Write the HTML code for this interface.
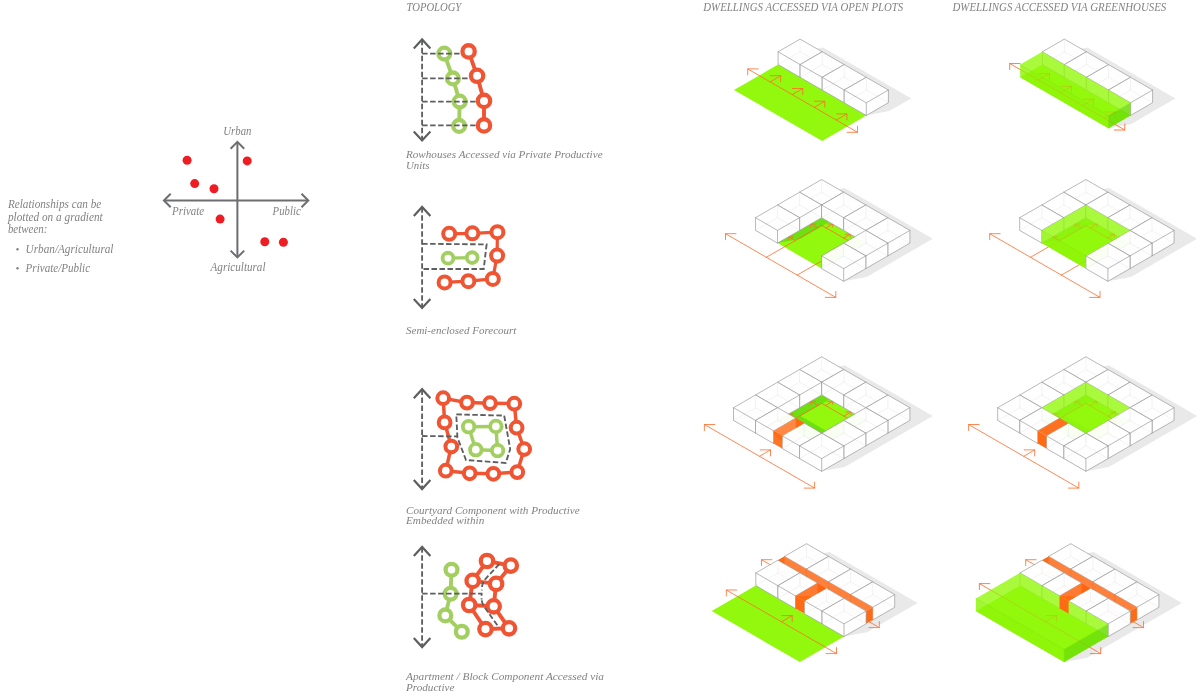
<!DOCTYPE html>
<html lang="en"><head><meta charset="utf-8"><title>Topology</title>
<style>
html,body{margin:0;padding:0;background:#fff}
body{width:1200px;height:696px;overflow:hidden}
svg{display:block;will-change:transform}
svg text{font-family:"Liberation Serif",serif;font-style:italic;fill:#828282}
</style></head><body>
<svg width="1200" height="696" viewBox="0 0 1200 696">
<rect width="1200" height="696" fill="#fff"/>
<g id="iso" stroke-linecap="round">
<polygon points="778.1,64.5 800.1,77.3 823.1,72.9 845.1,60.2 823.1,47.5 800.1,51.8" fill="#e9e9e9"/>
<polygon points="800.1,77.3 822.2,90 845.1,85.7 867.2,72.9 845.1,60.2 822.2,64.5" fill="#e9e9e9"/>
<polygon points="822.2,90 844.2,102.7 867.2,98.4 889.2,85.7 867.2,72.9 844.2,77.3" fill="#e9e9e9"/>
<polygon points="844.2,102.7 866.3,115.5 889.2,111.1 911.3,98.4 889.2,85.7 866.3,90" fill="#e9e9e9"/>
<polygon points="734,90 822.2,140.9 866.3,115.5 778.1,64.5" fill="#92f90e"/>
<polyline points="747.7,68.9 857.5,132.3" fill="none" stroke="#ff6a2a" stroke-width="0.8"/>
<polyline points="758.1,68.9 747.7,68.9 747.7,74.9" fill="none" stroke="#ff6a2a" stroke-width="0.8"/>
<polyline points="857.5,126.3 857.5,132.3 847.1,132.3" fill="none" stroke="#ff6a2a" stroke-width="0.8"/>
<polyline points="770.2,81.9 780.7,75.7" fill="none" stroke="#ff6a2a" stroke-width="0.8"/>
<polyline points="780.7,81.8 780.7,75.7 770.3,75.7" fill="none" stroke="#ff6a2a" stroke-width="0.8"/>
<polyline points="792.2,94.6 802.8,88.5" fill="none" stroke="#ff6a2a" stroke-width="0.8"/>
<polyline points="802.8,94.5 802.8,88.5 792.4,88.5" fill="none" stroke="#ff6a2a" stroke-width="0.8"/>
<polyline points="814.3,107.3 824.8,101.2" fill="none" stroke="#ff6a2a" stroke-width="0.8"/>
<polyline points="824.8,107.2 824.8,101.2 814.4,101.2" fill="none" stroke="#ff6a2a" stroke-width="0.8"/>
<polyline points="836.3,120 846.9,113.9" fill="none" stroke="#ff6a2a" stroke-width="0.8"/>
<polyline points="846.9,119.9 846.9,113.9 836.5,113.9" fill="none" stroke="#ff6a2a" stroke-width="0.8"/>
<polygon points="778.1,64.5 800.1,77.3 822.2,64.5 822.2,51.8 800.1,39.1 778.1,51.8" fill="#fff" fill-opacity="0.95"/>
<polyline points="800.1,51.8 822.2,64.5" fill="none" stroke="#e9e9e9" stroke-width="0.5"/>
<polyline points="800.1,51.8 778.1,64.5" fill="none" stroke="#e9e9e9" stroke-width="0.5"/>
<polyline points="800.1,51.8 800.1,39.1" fill="none" stroke="#e9e9e9" stroke-width="0.5"/>
<polyline points="778.1,51.8 800.1,64.6 822.2,51.8 800.1,39.1 778.1,51.8 778.1,64.5 800.1,77.3 822.2,64.5 822.2,51.8" fill="none" stroke="#939393" stroke-width="0.65" stroke-linejoin="round"/>
<polyline points="800.1,77.3 800.1,64.6" fill="none" stroke="#939393" stroke-width="0.65"/>
<polygon points="800.1,77.3 822.2,90 844.2,77.3 844.2,64.6 822.2,51.8 800.1,64.6" fill="#fff" fill-opacity="0.95"/>
<polyline points="822.2,64.5 844.2,77.3" fill="none" stroke="#e9e9e9" stroke-width="0.5"/>
<polyline points="822.2,64.5 800.1,77.3" fill="none" stroke="#e9e9e9" stroke-width="0.5"/>
<polyline points="822.2,64.5 822.2,51.8" fill="none" stroke="#e9e9e9" stroke-width="0.5"/>
<polyline points="800.1,64.6 822.2,77.3 844.2,64.6 822.2,51.8 800.1,64.6 800.1,77.3 822.2,90 844.2,77.3 844.2,64.6" fill="none" stroke="#939393" stroke-width="0.65" stroke-linejoin="round"/>
<polyline points="822.2,90 822.2,77.3" fill="none" stroke="#939393" stroke-width="0.65"/>
<polygon points="822.2,90 844.2,102.7 866.3,90 866.3,77.3 844.2,64.6 822.2,77.3" fill="#fff" fill-opacity="0.95"/>
<polyline points="844.2,77.3 866.3,90" fill="none" stroke="#e9e9e9" stroke-width="0.5"/>
<polyline points="844.2,77.3 822.2,90" fill="none" stroke="#e9e9e9" stroke-width="0.5"/>
<polyline points="844.2,77.3 844.2,64.6" fill="none" stroke="#e9e9e9" stroke-width="0.5"/>
<polyline points="822.2,77.3 844.2,90 866.3,77.3 844.2,64.6 822.2,77.3 822.2,90 844.2,102.7 866.3,90 866.3,77.3" fill="none" stroke="#939393" stroke-width="0.65" stroke-linejoin="round"/>
<polyline points="844.2,102.7 844.2,90" fill="none" stroke="#939393" stroke-width="0.65"/>
<polygon points="844.2,102.7 866.3,115.5 888.4,102.7 888.4,90 866.3,77.3 844.2,90" fill="#fff" fill-opacity="0.95"/>
<polyline points="866.3,90 888.4,102.7" fill="none" stroke="#e9e9e9" stroke-width="0.5"/>
<polyline points="866.3,90 844.2,102.7" fill="none" stroke="#e9e9e9" stroke-width="0.5"/>
<polyline points="866.3,90 866.3,77.3" fill="none" stroke="#e9e9e9" stroke-width="0.5"/>
<polyline points="844.2,90 866.3,102.8 888.4,90 866.3,77.3 844.2,90 844.2,102.7 866.3,115.5 888.4,102.7 888.4,90" fill="none" stroke="#939393" stroke-width="0.65" stroke-linejoin="round"/>
<polyline points="866.3,115.5 866.3,102.8" fill="none" stroke="#939393" stroke-width="0.65"/>
<polygon points="1042.3,64.5 1064.3,77.3 1087.3,72.9 1109.3,60.2 1087.3,47.5 1064.4,51.8" fill="#e9e9e9"/>
<polygon points="1064.3,77.3 1086.4,90 1109.3,85.7 1131.4,72.9 1109.3,60.2 1086.4,64.5" fill="#e9e9e9"/>
<polygon points="1086.4,90 1108.5,102.7 1131.4,98.4 1153.4,85.7 1131.4,72.9 1108.5,77.3" fill="#e9e9e9"/>
<polygon points="1108.5,102.7 1130.5,115.5 1153.4,111.1 1175.5,98.4 1153.4,85.7 1130.5,90" fill="#e9e9e9"/>
<polygon points="1020.2,77.3 1108.5,128.2 1131.4,123.9 1153.4,111.1 1065.2,60.2 1042.3,64.5" fill="#e9e9e9"/>
<polygon points="1020.2,77.3 1108.5,128.2 1130.5,115.5 1042.3,64.5" fill="#92f90e"/>
<polyline points="1009.7,63.5 1124.8,130" fill="none" stroke="#ff6a2a" stroke-width="0.8"/>
<polyline points="1020.1,63.5 1009.7,63.5 1009.7,69.5" fill="none" stroke="#ff6a2a" stroke-width="0.8"/>
<polyline points="1124.8,124 1124.8,130 1114.4,130" fill="none" stroke="#ff6a2a" stroke-width="0.8"/>
<polyline points="1038.3,80.1 1049.4,73.7" fill="none" stroke="#ff6a2a" stroke-width="0.8"/>
<polyline points="1049.4,79.7 1049.4,73.7 1038.9,73.7" fill="none" stroke="#ff6a2a" stroke-width="0.8"/>
<polyline points="1060.4,92.8 1071.4,86.4" fill="none" stroke="#ff6a2a" stroke-width="0.8"/>
<polyline points="1071.4,92.4 1071.4,86.4 1061,86.4" fill="none" stroke="#ff6a2a" stroke-width="0.8"/>
<polyline points="1082.4,105.5 1093.5,99.2" fill="none" stroke="#ff6a2a" stroke-width="0.8"/>
<polyline points="1093.5,105.2 1093.5,99.2 1083,99.2" fill="none" stroke="#ff6a2a" stroke-width="0.8"/>
<polyline points="1104.5,118.3 1115.5,111.9" fill="none" stroke="#ff6a2a" stroke-width="0.8"/>
<polyline points="1115.5,117.9 1115.5,111.9 1105.1,111.9" fill="none" stroke="#ff6a2a" stroke-width="0.8"/>
<polygon points="1042.3,64.5 1064.3,77.3 1086.4,64.5 1086.4,51.8 1064.4,39.1 1042.3,51.8" fill="#fff" fill-opacity="0.95"/>
<polyline points="1064.4,51.8 1086.4,64.5" fill="none" stroke="#e9e9e9" stroke-width="0.5"/>
<polyline points="1064.4,51.8 1042.3,64.5" fill="none" stroke="#e9e9e9" stroke-width="0.5"/>
<polyline points="1064.4,51.8 1064.4,39.1" fill="none" stroke="#e9e9e9" stroke-width="0.5"/>
<polyline points="1042.3,51.8 1064.3,64.6 1086.4,51.8 1064.4,39.1 1042.3,51.8 1042.3,64.5 1064.3,77.3 1086.4,64.5 1086.4,51.8" fill="none" stroke="#939393" stroke-width="0.65" stroke-linejoin="round"/>
<polyline points="1064.3,77.3 1064.3,64.6" fill="none" stroke="#939393" stroke-width="0.65"/>
<polygon points="1064.3,77.3 1086.4,90 1108.5,77.3 1108.5,64.6 1086.4,51.8 1064.3,64.6" fill="#fff" fill-opacity="0.95"/>
<polyline points="1086.4,64.5 1108.5,77.3" fill="none" stroke="#e9e9e9" stroke-width="0.5"/>
<polyline points="1086.4,64.5 1064.3,77.3" fill="none" stroke="#e9e9e9" stroke-width="0.5"/>
<polyline points="1086.4,64.5 1086.4,51.8" fill="none" stroke="#e9e9e9" stroke-width="0.5"/>
<polyline points="1064.3,64.6 1086.4,77.3 1108.5,64.6 1086.4,51.8 1064.3,64.6 1064.3,77.3 1086.4,90 1108.5,77.3 1108.5,64.6" fill="none" stroke="#939393" stroke-width="0.65" stroke-linejoin="round"/>
<polyline points="1086.4,90 1086.4,77.3" fill="none" stroke="#939393" stroke-width="0.65"/>
<polygon points="1086.4,90 1108.5,102.7 1130.5,90 1130.5,77.3 1108.5,64.6 1086.4,77.3" fill="#fff" fill-opacity="0.95"/>
<polyline points="1108.5,77.3 1130.5,90" fill="none" stroke="#e9e9e9" stroke-width="0.5"/>
<polyline points="1108.5,77.3 1086.4,90" fill="none" stroke="#e9e9e9" stroke-width="0.5"/>
<polyline points="1108.5,77.3 1108.5,64.6" fill="none" stroke="#e9e9e9" stroke-width="0.5"/>
<polyline points="1086.4,77.3 1108.5,90 1130.5,77.3 1108.5,64.6 1086.4,77.3 1086.4,90 1108.5,102.7 1130.5,90 1130.5,77.3" fill="none" stroke="#939393" stroke-width="0.65" stroke-linejoin="round"/>
<polyline points="1108.5,102.7 1108.5,90" fill="none" stroke="#939393" stroke-width="0.65"/>
<polygon points="1108.5,102.7 1130.5,115.5 1152.6,102.7 1152.6,90 1130.5,77.3 1108.5,90" fill="#fff" fill-opacity="0.95"/>
<polyline points="1130.5,90 1152.6,102.7" fill="none" stroke="#e9e9e9" stroke-width="0.5"/>
<polyline points="1130.5,90 1108.5,102.7" fill="none" stroke="#e9e9e9" stroke-width="0.5"/>
<polyline points="1130.5,90 1130.5,77.3" fill="none" stroke="#e9e9e9" stroke-width="0.5"/>
<polyline points="1108.5,90 1130.5,102.8 1152.6,90 1130.5,77.3 1108.5,90 1108.5,102.7 1130.5,115.5 1152.6,102.7 1152.6,90" fill="none" stroke="#939393" stroke-width="0.65" stroke-linejoin="round"/>
<polyline points="1130.5,115.5 1130.5,102.8" fill="none" stroke="#939393" stroke-width="0.65"/>
<polygon points="1020.2,77.3 1108.5,128.2 1108.5,115.5 1020.2,64.6" fill="#8ff50a" fill-opacity="0.84"/>
<polygon points="1108.5,128.2 1130.5,115.5 1130.5,102.8 1108.5,115.5" fill="#6fdf0a" fill-opacity="0.88"/>
<polygon points="1020.2,64.6 1108.5,115.5 1130.5,102.8 1042.3,51.8" fill="#93f90d" fill-opacity="0.8"/>
<polyline points="1020.2,64.6 1108.5,115.5" fill="none" stroke="#7fe60a" stroke-width="0.5"/>
<polyline points="1108.5,115.5 1130.5,102.8" fill="none" stroke="#7fe60a" stroke-width="0.5"/>
<polyline points="1108.5,128.2 1108.5,115.5" fill="none" stroke="#7fe60a" stroke-width="0.5"/>
<polyline points="1009.7,63.5 1124.8,130" fill="none" stroke="#ff6a2a" stroke-width="0.8" stroke-opacity="0.13"/>
<polyline points="1020.1,63.5 1009.7,63.5 1009.7,69.5" fill="none" stroke="#ff6a2a" stroke-width="0.8" stroke-opacity="0.13"/>
<polyline points="1124.8,124 1124.8,130 1114.4,130" fill="none" stroke="#ff6a2a" stroke-width="0.8" stroke-opacity="0.13"/>
<polyline points="1038.3,80.1 1049.4,73.7" fill="none" stroke="#ff6a2a" stroke-width="0.8" stroke-opacity="0.13"/>
<polyline points="1049.4,79.7 1049.4,73.7 1038.9,73.7" fill="none" stroke="#ff6a2a" stroke-width="0.8" stroke-opacity="0.13"/>
<polyline points="1060.4,92.8 1071.4,86.4" fill="none" stroke="#ff6a2a" stroke-width="0.8" stroke-opacity="0.13"/>
<polyline points="1071.4,92.4 1071.4,86.4 1061,86.4" fill="none" stroke="#ff6a2a" stroke-width="0.8" stroke-opacity="0.13"/>
<polyline points="1082.4,105.5 1093.5,99.2" fill="none" stroke="#ff6a2a" stroke-width="0.8" stroke-opacity="0.13"/>
<polyline points="1093.5,105.2 1093.5,99.2 1083,99.2" fill="none" stroke="#ff6a2a" stroke-width="0.8" stroke-opacity="0.13"/>
<polyline points="1104.5,118.3 1115.5,111.9" fill="none" stroke="#ff6a2a" stroke-width="0.8" stroke-opacity="0.13"/>
<polyline points="1115.5,117.9 1115.5,111.9 1105.1,111.9" fill="none" stroke="#ff6a2a" stroke-width="0.8" stroke-opacity="0.13"/>
<polygon points="799.6,204.9 821.6,217.7 844.6,213.3 866.6,200.6 844.6,187.9 821.6,192.2" fill="#e9e9e9"/>
<polygon points="821.6,217.7 843.7,230.4 866.6,226.1 888.7,213.3 866.6,200.6 843.7,204.9" fill="#e9e9e9"/>
<polygon points="843.7,230.4 865.8,243.1 888.7,238.8 910.7,226.1 888.7,213.3 865.8,217.7" fill="#e9e9e9"/>
<polygon points="865.8,243.1 887.8,255.9 910.7,251.5 932.8,238.8 910.7,226.1 887.8,230.4" fill="#e9e9e9"/>
<polygon points="755.5,230.4 777.5,243.1 800.5,238.8 822.5,226.1 800.5,213.3 777.5,217.7" fill="#e9e9e9"/>
<polygon points="777.5,217.7 799.6,230.4 822.5,226.1 844.6,213.3 822.5,200.6 799.6,204.9" fill="#e9e9e9"/>
<polygon points="821.6,268.6 843.7,281.3 866.6,277 888.7,264.3 866.6,251.5 843.7,255.9" fill="#e9e9e9"/>
<polygon points="843.7,255.9 865.8,268.6 888.7,264.3 910.7,251.5 888.7,238.8 865.8,243.1" fill="#e9e9e9"/>
<polygon points="777.5,243.1 821.6,268.6 865.8,243.1 821.6,217.7" fill="#92f90e"/>
<clipPath id="c1">
<polygon points="777.5,243.1 821.6,268.6 865.8,243.1 821.6,217.7"/>
</clipPath>
<polygon points="799.6,204.9 821.6,217.7 844.6,213.3 866.6,200.6 844.6,187.9 821.6,192.2" fill="#6fe00f" clip-path="url(#c1)"/>
<polygon points="821.6,217.7 843.7,230.4 866.6,226.1 888.7,213.3 866.6,200.6 843.7,204.9" fill="#6fe00f" clip-path="url(#c1)"/>
<polygon points="843.7,230.4 865.8,243.1 888.7,238.8 910.7,226.1 888.7,213.3 865.8,217.7" fill="#6fe00f" clip-path="url(#c1)"/>
<polygon points="865.8,243.1 887.8,255.9 910.7,251.5 932.8,238.8 910.7,226.1 887.8,230.4" fill="#6fe00f" clip-path="url(#c1)"/>
<polygon points="755.5,230.4 777.5,243.1 800.5,238.8 822.5,226.1 800.5,213.3 777.5,217.7" fill="#6fe00f" clip-path="url(#c1)"/>
<polygon points="777.5,217.7 799.6,230.4 822.5,226.1 844.6,213.3 822.5,200.6 799.6,204.9" fill="#6fe00f" clip-path="url(#c1)"/>
<polygon points="821.6,268.6 843.7,281.3 866.6,277 888.7,264.3 866.6,251.5 843.7,255.9" fill="#6fe00f" clip-path="url(#c1)"/>
<polygon points="843.7,255.9 865.8,268.6 888.7,264.3 910.7,251.5 888.7,238.8 865.8,243.1" fill="#6fe00f" clip-path="url(#c1)"/>
<polyline points="725.5,233.7 835.8,297.4" fill="none" stroke="#ff6a2a" stroke-width="0.8"/>
<polyline points="735.9,233.7 725.5,233.7 725.5,239.7" fill="none" stroke="#ff6a2a" stroke-width="0.8"/>
<polyline points="835.8,291.4 835.8,297.4 825.4,297.4" fill="none" stroke="#ff6a2a" stroke-width="0.8"/>
<polyline points="766.3,257.3 821.6,225.3 852.5,243.1 797.2,275.1" fill="none" stroke="#ff6a2a" stroke-width="0.8"/>
<polyline points="795.2,240.6 788.6,236.8" fill="none" stroke="#ff6a2a" stroke-width="0.8"/>
<polyline points="793.6,236.8 788.6,236.8 788.6,239.7" fill="none" stroke="#ff6a2a" stroke-width="0.8"/>
<polyline points="817.2,227.9 810.6,224" fill="none" stroke="#ff6a2a" stroke-width="0.8"/>
<polyline points="815.7,224 810.6,224 810.6,227" fill="none" stroke="#ff6a2a" stroke-width="0.8"/>
<polyline points="826.1,227.9 832.7,224" fill="none" stroke="#ff6a2a" stroke-width="0.8"/>
<polyline points="832.7,227 832.7,224 827.6,224" fill="none" stroke="#ff6a2a" stroke-width="0.8"/>
<polyline points="843.7,238 850.3,234.2" fill="none" stroke="#ff6a2a" stroke-width="0.8"/>
<polyline points="850.3,237.1 850.3,234.2 845.2,234.2" fill="none" stroke="#ff6a2a" stroke-width="0.8"/>
<polyline points="826.1,258.4 832.7,262.2" fill="none" stroke="#ff6a2a" stroke-width="0.8"/>
<polyline points="832.7,259.3 832.7,262.2 827.6,262.2" fill="none" stroke="#ff6a2a" stroke-width="0.8"/>
<polyline points="848.1,245.7 854.7,249.5" fill="none" stroke="#ff6a2a" stroke-width="0.8"/>
<polyline points="854.7,246.6 854.7,249.5 849.7,249.5" fill="none" stroke="#ff6a2a" stroke-width="0.8"/>
<polygon points="799.6,204.9 821.6,217.7 843.7,204.9 843.7,192.2 821.6,179.5 799.6,192.2" fill="#fff" fill-opacity="0.95"/>
<polyline points="821.6,192.2 843.7,204.9" fill="none" stroke="#e9e9e9" stroke-width="0.5"/>
<polyline points="821.6,192.2 799.6,204.9" fill="none" stroke="#e9e9e9" stroke-width="0.5"/>
<polyline points="821.6,192.2 821.6,179.5" fill="none" stroke="#e9e9e9" stroke-width="0.5"/>
<polyline points="799.6,192.2 821.6,205 843.7,192.2 821.6,179.5 799.6,192.2 799.6,204.9 821.6,217.7 843.7,204.9 843.7,192.2" fill="none" stroke="#939393" stroke-width="0.65" stroke-linejoin="round"/>
<polyline points="821.6,217.7 821.6,205" fill="none" stroke="#939393" stroke-width="0.65"/>
<polygon points="777.5,217.7 799.6,230.4 821.6,217.7 821.6,205 799.6,192.2 777.5,205" fill="#fff" fill-opacity="0.95"/>
<polyline points="799.6,204.9 821.6,217.7" fill="none" stroke="#e9e9e9" stroke-width="0.5"/>
<polyline points="799.6,204.9 777.5,217.7" fill="none" stroke="#e9e9e9" stroke-width="0.5"/>
<polyline points="799.6,204.9 799.6,192.2" fill="none" stroke="#e9e9e9" stroke-width="0.5"/>
<polyline points="777.5,205 799.6,217.7 821.6,205 799.6,192.2 777.5,205 777.5,217.7 799.6,230.4 821.6,217.7 821.6,205" fill="none" stroke="#939393" stroke-width="0.65" stroke-linejoin="round"/>
<polyline points="799.6,230.4 799.6,217.7" fill="none" stroke="#939393" stroke-width="0.65"/>
<polygon points="821.6,217.7 843.7,230.4 865.8,217.7 865.8,205 843.7,192.2 821.6,205" fill="#fff" fill-opacity="0.95"/>
<polyline points="843.7,204.9 865.8,217.7" fill="none" stroke="#e9e9e9" stroke-width="0.5"/>
<polyline points="843.7,204.9 821.6,217.7" fill="none" stroke="#e9e9e9" stroke-width="0.5"/>
<polyline points="843.7,204.9 843.7,192.2" fill="none" stroke="#e9e9e9" stroke-width="0.5"/>
<polyline points="821.6,205 843.7,217.7 865.8,205 843.7,192.2 821.6,205 821.6,217.7 843.7,230.4 865.8,217.7 865.8,205" fill="none" stroke="#939393" stroke-width="0.65" stroke-linejoin="round"/>
<polyline points="843.7,230.4 843.7,217.7" fill="none" stroke="#939393" stroke-width="0.65"/>
<polygon points="755.5,230.4 777.5,243.1 799.6,230.4 799.6,217.7 777.5,205 755.5,217.7" fill="#fff" fill-opacity="0.95"/>
<polyline points="777.5,217.7 799.6,230.4" fill="none" stroke="#e9e9e9" stroke-width="0.5"/>
<polyline points="777.5,217.7 755.5,230.4" fill="none" stroke="#e9e9e9" stroke-width="0.5"/>
<polyline points="777.5,217.7 777.5,205" fill="none" stroke="#e9e9e9" stroke-width="0.5"/>
<polyline points="755.5,217.7 777.5,230.4 799.6,217.7 777.5,205 755.5,217.7 755.5,230.4 777.5,243.1 799.6,230.4 799.6,217.7" fill="none" stroke="#939393" stroke-width="0.65" stroke-linejoin="round"/>
<polyline points="777.5,243.1 777.5,230.4" fill="none" stroke="#939393" stroke-width="0.65"/>
<polygon points="843.7,230.4 865.8,243.1 887.8,230.4 887.8,217.7 865.8,205 843.7,217.7" fill="#fff" fill-opacity="0.95"/>
<polyline points="865.8,217.7 887.8,230.4" fill="none" stroke="#e9e9e9" stroke-width="0.5"/>
<polyline points="865.8,217.7 843.7,230.4" fill="none" stroke="#e9e9e9" stroke-width="0.5"/>
<polyline points="865.8,217.7 865.8,205" fill="none" stroke="#e9e9e9" stroke-width="0.5"/>
<polyline points="843.7,217.7 865.8,230.4 887.8,217.7 865.8,205 843.7,217.7 843.7,230.4 865.8,243.1 887.8,230.4 887.8,217.7" fill="none" stroke="#939393" stroke-width="0.65" stroke-linejoin="round"/>
<polyline points="865.8,243.1 865.8,230.4" fill="none" stroke="#939393" stroke-width="0.65"/>
<polygon points="865.8,243.1 887.8,255.9 909.9,243.1 909.9,230.4 887.8,217.7 865.8,230.4" fill="#fff" fill-opacity="0.95"/>
<polyline points="887.8,230.4 909.9,243.1" fill="none" stroke="#e9e9e9" stroke-width="0.5"/>
<polyline points="887.8,230.4 865.8,243.1" fill="none" stroke="#e9e9e9" stroke-width="0.5"/>
<polyline points="887.8,230.4 887.8,217.7" fill="none" stroke="#e9e9e9" stroke-width="0.5"/>
<polyline points="865.8,230.4 887.8,243.2 909.9,230.4 887.8,217.7 865.8,230.4 865.8,243.1 887.8,255.9 909.9,243.1 909.9,230.4" fill="none" stroke="#939393" stroke-width="0.65" stroke-linejoin="round"/>
<polyline points="887.8,255.9 887.8,243.2" fill="none" stroke="#939393" stroke-width="0.65"/>
<polygon points="843.7,255.9 865.8,268.6 887.8,255.9 887.8,243.2 865.8,230.4 843.7,243.2" fill="#fff" fill-opacity="0.95"/>
<polyline points="865.8,243.1 887.8,255.9" fill="none" stroke="#e9e9e9" stroke-width="0.5"/>
<polyline points="865.8,243.1 843.7,255.9" fill="none" stroke="#e9e9e9" stroke-width="0.5"/>
<polyline points="865.8,243.1 865.8,230.4" fill="none" stroke="#e9e9e9" stroke-width="0.5"/>
<polyline points="843.7,243.2 865.8,255.9 887.8,243.2 865.8,230.4 843.7,243.2 843.7,255.9 865.8,268.6 887.8,255.9 887.8,243.2" fill="none" stroke="#939393" stroke-width="0.65" stroke-linejoin="round"/>
<polyline points="865.8,268.6 865.8,255.9" fill="none" stroke="#939393" stroke-width="0.65"/>
<polygon points="821.6,268.6 843.7,281.3 865.8,268.6 865.8,255.9 843.7,243.2 821.6,255.9" fill="#fff" fill-opacity="0.95"/>
<polyline points="843.7,255.9 865.8,268.6" fill="none" stroke="#e9e9e9" stroke-width="0.5"/>
<polyline points="843.7,255.9 821.6,268.6" fill="none" stroke="#e9e9e9" stroke-width="0.5"/>
<polyline points="843.7,255.9 843.7,243.2" fill="none" stroke="#e9e9e9" stroke-width="0.5"/>
<polyline points="821.6,255.9 843.7,268.6 865.8,255.9 843.7,243.2 821.6,255.9 821.6,268.6 843.7,281.3 865.8,268.6 865.8,255.9" fill="none" stroke="#939393" stroke-width="0.65" stroke-linejoin="round"/>
<polyline points="843.7,281.3 843.7,268.6" fill="none" stroke="#939393" stroke-width="0.65"/>
<polygon points="1063.8,204.9 1085.8,217.7 1108.8,213.3 1130.8,200.6 1108.8,187.9 1085.9,192.2" fill="#e9e9e9"/>
<polygon points="1085.8,217.7 1107.9,230.4 1130.8,226.1 1152.9,213.3 1130.8,200.6 1107.9,204.9" fill="#e9e9e9"/>
<polygon points="1107.9,230.4 1130,243.1 1152.9,238.8 1174.9,226.1 1152.9,213.3 1130,217.7" fill="#e9e9e9"/>
<polygon points="1130,243.1 1152,255.9 1174.9,251.5 1197,238.8 1174.9,226.1 1152,230.4" fill="#e9e9e9"/>
<polygon points="1019.7,230.4 1041.8,243.1 1064.7,238.8 1086.7,226.1 1064.7,213.3 1041.8,217.7" fill="#e9e9e9"/>
<polygon points="1041.8,217.7 1063.8,230.4 1086.7,226.1 1108.8,213.3 1086.7,200.6 1063.8,204.9" fill="#e9e9e9"/>
<polygon points="1085.9,268.6 1107.9,281.3 1130.8,277 1152.9,264.3 1130.8,251.5 1107.9,255.9" fill="#e9e9e9"/>
<polygon points="1107.9,255.9 1130,268.6 1152.9,264.3 1174.9,251.5 1152.9,238.8 1130,243.1" fill="#e9e9e9"/>
<polygon points="1041.8,243.1 1085.9,268.6 1130,243.1 1085.8,217.7" fill="#92f90e"/>
<clipPath id="c2">
<polygon points="1041.8,243.1 1085.9,268.6 1130,243.1 1085.8,217.7"/>
</clipPath>
<polygon points="1063.8,204.9 1085.8,217.7 1108.8,213.3 1130.8,200.6 1108.8,187.9 1085.9,192.2" fill="#6fe00f" clip-path="url(#c2)"/>
<polygon points="1085.8,217.7 1107.9,230.4 1130.8,226.1 1152.9,213.3 1130.8,200.6 1107.9,204.9" fill="#6fe00f" clip-path="url(#c2)"/>
<polygon points="1107.9,230.4 1130,243.1 1152.9,238.8 1174.9,226.1 1152.9,213.3 1130,217.7" fill="#6fe00f" clip-path="url(#c2)"/>
<polygon points="1130,243.1 1152,255.9 1174.9,251.5 1197,238.8 1174.9,226.1 1152,230.4" fill="#6fe00f" clip-path="url(#c2)"/>
<polygon points="1019.7,230.4 1041.8,243.1 1064.7,238.8 1086.7,226.1 1064.7,213.3 1041.8,217.7" fill="#6fe00f" clip-path="url(#c2)"/>
<polygon points="1041.8,217.7 1063.8,230.4 1086.7,226.1 1108.8,213.3 1086.7,200.6 1063.8,204.9" fill="#6fe00f" clip-path="url(#c2)"/>
<polygon points="1085.9,268.6 1107.9,281.3 1130.8,277 1152.9,264.3 1130.8,251.5 1107.9,255.9" fill="#6fe00f" clip-path="url(#c2)"/>
<polygon points="1107.9,255.9 1130,268.6 1152.9,264.3 1174.9,251.5 1152.9,238.8 1130,243.1" fill="#6fe00f" clip-path="url(#c2)"/>
<polyline points="989.7,233.7 1100,297.4" fill="none" stroke="#ff6a2a" stroke-width="0.8"/>
<polyline points="1000.1,233.7 989.7,233.7 989.7,239.7" fill="none" stroke="#ff6a2a" stroke-width="0.8"/>
<polyline points="1100,291.4 1100,297.4 1089.6,297.4" fill="none" stroke="#ff6a2a" stroke-width="0.8"/>
<polyline points="1030.5,257.3 1085.8,225.3 1116.7,243.1 1061.4,275.1" fill="none" stroke="#ff6a2a" stroke-width="0.8"/>
<polyline points="1059.4,240.6 1052.8,236.8" fill="none" stroke="#ff6a2a" stroke-width="0.8"/>
<polyline points="1057.8,236.8 1052.8,236.8 1052.8,239.7" fill="none" stroke="#ff6a2a" stroke-width="0.8"/>
<polyline points="1081.4,227.9 1074.8,224" fill="none" stroke="#ff6a2a" stroke-width="0.8"/>
<polyline points="1079.9,224 1074.8,224 1074.8,227" fill="none" stroke="#ff6a2a" stroke-width="0.8"/>
<polyline points="1090.3,227.9 1096.9,224" fill="none" stroke="#ff6a2a" stroke-width="0.8"/>
<polyline points="1096.9,227 1096.9,224 1091.8,224" fill="none" stroke="#ff6a2a" stroke-width="0.8"/>
<polyline points="1107.9,238 1114.5,234.2" fill="none" stroke="#ff6a2a" stroke-width="0.8"/>
<polyline points="1114.5,237.1 1114.5,234.2 1109.4,234.2" fill="none" stroke="#ff6a2a" stroke-width="0.8"/>
<polyline points="1090.3,258.4 1096.9,262.2" fill="none" stroke="#ff6a2a" stroke-width="0.8"/>
<polyline points="1096.9,259.3 1096.9,262.2 1091.8,262.2" fill="none" stroke="#ff6a2a" stroke-width="0.8"/>
<polyline points="1112.3,245.7 1118.9,249.5" fill="none" stroke="#ff6a2a" stroke-width="0.8"/>
<polyline points="1118.9,246.6 1118.9,249.5 1113.9,249.5" fill="none" stroke="#ff6a2a" stroke-width="0.8"/>
<polygon points="1063.8,204.9 1085.8,217.7 1107.9,204.9 1107.9,192.2 1085.9,179.5 1063.8,192.2" fill="#fff" fill-opacity="0.95"/>
<polyline points="1085.9,192.2 1107.9,204.9" fill="none" stroke="#e9e9e9" stroke-width="0.5"/>
<polyline points="1085.9,192.2 1063.8,204.9" fill="none" stroke="#e9e9e9" stroke-width="0.5"/>
<polyline points="1085.9,192.2 1085.9,179.5" fill="none" stroke="#e9e9e9" stroke-width="0.5"/>
<polyline points="1063.8,192.2 1085.8,205 1107.9,192.2 1085.9,179.5 1063.8,192.2 1063.8,204.9 1085.8,217.7 1107.9,204.9 1107.9,192.2" fill="none" stroke="#939393" stroke-width="0.65" stroke-linejoin="round"/>
<polyline points="1085.8,217.7 1085.8,205" fill="none" stroke="#939393" stroke-width="0.65"/>
<polygon points="1041.8,217.7 1063.8,230.4 1085.8,217.7 1085.8,205 1063.8,192.2 1041.8,205" fill="#fff" fill-opacity="0.95"/>
<polyline points="1063.8,204.9 1085.8,217.7" fill="none" stroke="#e9e9e9" stroke-width="0.5"/>
<polyline points="1063.8,204.9 1041.8,217.7" fill="none" stroke="#e9e9e9" stroke-width="0.5"/>
<polyline points="1063.8,204.9 1063.8,192.2" fill="none" stroke="#e9e9e9" stroke-width="0.5"/>
<polyline points="1041.8,205 1063.8,217.7 1085.8,205 1063.8,192.2 1041.8,205 1041.8,217.7 1063.8,230.4 1085.8,217.7 1085.8,205" fill="none" stroke="#939393" stroke-width="0.65" stroke-linejoin="round"/>
<polyline points="1063.8,230.4 1063.8,217.7" fill="none" stroke="#939393" stroke-width="0.65"/>
<polygon points="1085.8,217.7 1107.9,230.4 1130,217.7 1130,205 1107.9,192.2 1085.8,205" fill="#fff" fill-opacity="0.95"/>
<polyline points="1107.9,204.9 1130,217.7" fill="none" stroke="#e9e9e9" stroke-width="0.5"/>
<polyline points="1107.9,204.9 1085.8,217.7" fill="none" stroke="#e9e9e9" stroke-width="0.5"/>
<polyline points="1107.9,204.9 1107.9,192.2" fill="none" stroke="#e9e9e9" stroke-width="0.5"/>
<polyline points="1085.8,205 1107.9,217.7 1130,205 1107.9,192.2 1085.8,205 1085.8,217.7 1107.9,230.4 1130,217.7 1130,205" fill="none" stroke="#939393" stroke-width="0.65" stroke-linejoin="round"/>
<polyline points="1107.9,230.4 1107.9,217.7" fill="none" stroke="#939393" stroke-width="0.65"/>
<polygon points="1019.7,230.4 1041.8,243.1 1063.8,230.4 1063.8,217.7 1041.8,205 1019.7,217.7" fill="#fff" fill-opacity="0.95"/>
<polyline points="1041.8,217.7 1063.8,230.4" fill="none" stroke="#e9e9e9" stroke-width="0.5"/>
<polyline points="1041.8,217.7 1019.7,230.4" fill="none" stroke="#e9e9e9" stroke-width="0.5"/>
<polyline points="1041.8,217.7 1041.8,205" fill="none" stroke="#e9e9e9" stroke-width="0.5"/>
<polyline points="1019.7,217.7 1041.8,230.4 1063.8,217.7 1041.8,205 1019.7,217.7 1019.7,230.4 1041.8,243.1 1063.8,230.4 1063.8,217.7" fill="none" stroke="#939393" stroke-width="0.65" stroke-linejoin="round"/>
<polyline points="1041.8,243.1 1041.8,230.4" fill="none" stroke="#939393" stroke-width="0.65"/>
<polygon points="1107.9,230.4 1130,243.1 1152,230.4 1152,217.7 1130,205 1107.9,217.7" fill="#fff" fill-opacity="0.95"/>
<polyline points="1130,217.7 1152,230.4" fill="none" stroke="#e9e9e9" stroke-width="0.5"/>
<polyline points="1130,217.7 1107.9,230.4" fill="none" stroke="#e9e9e9" stroke-width="0.5"/>
<polyline points="1130,217.7 1130,205" fill="none" stroke="#e9e9e9" stroke-width="0.5"/>
<polyline points="1107.9,217.7 1130,230.4 1152,217.7 1130,205 1107.9,217.7 1107.9,230.4 1130,243.1 1152,230.4 1152,217.7" fill="none" stroke="#939393" stroke-width="0.65" stroke-linejoin="round"/>
<polyline points="1130,243.1 1130,230.4" fill="none" stroke="#939393" stroke-width="0.65"/>
<polygon points="1130,243.1 1152,255.9 1174.1,243.1 1174.1,230.4 1152,217.7 1130,230.4" fill="#fff" fill-opacity="0.95"/>
<polyline points="1152,230.4 1174.1,243.1" fill="none" stroke="#e9e9e9" stroke-width="0.5"/>
<polyline points="1152,230.4 1130,243.1" fill="none" stroke="#e9e9e9" stroke-width="0.5"/>
<polyline points="1152,230.4 1152,217.7" fill="none" stroke="#e9e9e9" stroke-width="0.5"/>
<polyline points="1130,230.4 1152,243.2 1174.1,230.4 1152,217.7 1130,230.4 1130,243.1 1152,255.9 1174.1,243.1 1174.1,230.4" fill="none" stroke="#939393" stroke-width="0.65" stroke-linejoin="round"/>
<polyline points="1152,255.9 1152,243.2" fill="none" stroke="#939393" stroke-width="0.65"/>
<polygon points="1107.9,255.9 1130,268.6 1152,255.9 1152,243.2 1130,230.4 1107.9,243.2" fill="#fff" fill-opacity="0.95"/>
<polyline points="1130,243.1 1152,255.9" fill="none" stroke="#e9e9e9" stroke-width="0.5"/>
<polyline points="1130,243.1 1107.9,255.9" fill="none" stroke="#e9e9e9" stroke-width="0.5"/>
<polyline points="1130,243.1 1130,230.4" fill="none" stroke="#e9e9e9" stroke-width="0.5"/>
<polyline points="1107.9,243.2 1130,255.9 1152,243.2 1130,230.4 1107.9,243.2 1107.9,255.9 1130,268.6 1152,255.9 1152,243.2" fill="none" stroke="#939393" stroke-width="0.65" stroke-linejoin="round"/>
<polyline points="1130,268.6 1130,255.9" fill="none" stroke="#939393" stroke-width="0.65"/>
<polygon points="1085.9,268.6 1107.9,281.3 1130,268.6 1130,255.9 1107.9,243.2 1085.9,255.9" fill="#fff" fill-opacity="0.95"/>
<polyline points="1107.9,255.9 1130,268.6" fill="none" stroke="#e9e9e9" stroke-width="0.5"/>
<polyline points="1107.9,255.9 1085.9,268.6" fill="none" stroke="#e9e9e9" stroke-width="0.5"/>
<polyline points="1107.9,255.9 1107.9,243.2" fill="none" stroke="#e9e9e9" stroke-width="0.5"/>
<polyline points="1085.9,255.9 1107.9,268.6 1130,255.9 1107.9,243.2 1085.9,255.9 1085.9,268.6 1107.9,281.3 1130,268.6 1130,255.9" fill="none" stroke="#939393" stroke-width="0.65" stroke-linejoin="round"/>
<polyline points="1107.9,281.3 1107.9,268.6" fill="none" stroke="#939393" stroke-width="0.65"/>
<polygon points="1041.8,243.1 1085.9,268.6 1085.9,255.9 1041.8,230.4" fill="#8ff50a" fill-opacity="0.84"/>
<polygon points="1041.8,230.4 1085.9,255.9 1130,230.4 1085.8,205" fill="#93f90d" fill-opacity="0.8"/>
<polyline points="1041.8,230.4 1085.9,255.9" fill="none" stroke="#7fe60a" stroke-width="0.5"/>
<clipPath id="c3">
<polygon points="1041.8,230.4 1085.9,255.9 1130,230.4 1085.8,205"/>
</clipPath>
<g clip-path="url(#c3)">
<polyline points="1030.5,257.3 1085.8,225.3 1116.7,243.1 1061.4,275.1" fill="none" stroke="#ff6a2a" stroke-width="0.8" stroke-opacity="0.2"/>
<polyline points="1059.4,240.6 1052.8,236.8" fill="none" stroke="#ff6a2a" stroke-width="0.8" stroke-opacity="0.2"/>
<polyline points="1057.8,236.8 1052.8,236.8 1052.8,239.7" fill="none" stroke="#ff6a2a" stroke-width="0.8" stroke-opacity="0.2"/>
<polyline points="1081.4,227.9 1074.8,224" fill="none" stroke="#ff6a2a" stroke-width="0.8" stroke-opacity="0.2"/>
<polyline points="1079.9,224 1074.8,224 1074.8,227" fill="none" stroke="#ff6a2a" stroke-width="0.8" stroke-opacity="0.2"/>
<polyline points="1090.3,227.9 1096.9,224" fill="none" stroke="#ff6a2a" stroke-width="0.8" stroke-opacity="0.2"/>
<polyline points="1096.9,227 1096.9,224 1091.8,224" fill="none" stroke="#ff6a2a" stroke-width="0.8" stroke-opacity="0.2"/>
<polyline points="1107.9,238 1114.5,234.2" fill="none" stroke="#ff6a2a" stroke-width="0.8" stroke-opacity="0.2"/>
<polyline points="1114.5,237.1 1114.5,234.2 1109.4,234.2" fill="none" stroke="#ff6a2a" stroke-width="0.8" stroke-opacity="0.2"/>
<polyline points="1090.3,258.4 1096.9,262.2" fill="none" stroke="#ff6a2a" stroke-width="0.8" stroke-opacity="0.2"/>
<polyline points="1096.9,259.3 1096.9,262.2 1091.8,262.2" fill="none" stroke="#ff6a2a" stroke-width="0.8" stroke-opacity="0.2"/>
<polyline points="1112.3,245.7 1118.9,249.5" fill="none" stroke="#ff6a2a" stroke-width="0.8" stroke-opacity="0.2"/>
<polyline points="1118.9,246.6 1118.9,249.5 1113.9,249.5" fill="none" stroke="#ff6a2a" stroke-width="0.8" stroke-opacity="0.2"/>
</g>
<polygon points="799.6,382.2 821.7,394.9 844.6,390.6 866.7,377.9 844.6,365.2 821.7,369.5" fill="#e9e9e9"/>
<polygon points="821.7,394.9 843.8,407.7 866.7,403.3 888.7,390.6 866.7,377.9 843.8,382.2" fill="#e9e9e9"/>
<polygon points="843.8,407.7 865.8,420.4 888.7,416.1 910.8,403.3 888.7,390.6 865.8,394.9" fill="#e9e9e9"/>
<polygon points="865.8,420.4 887.9,433.1 910.8,428.8 932.8,416.1 910.8,403.3 887.9,407.7" fill="#e9e9e9"/>
<polygon points="755.5,407.7 777.6,420.4 800.5,416.1 822.6,403.3 800.5,390.6 777.6,394.9" fill="#e9e9e9"/>
<polygon points="777.6,394.9 799.6,407.7 822.6,403.3 844.6,390.6 822.6,377.9 799.6,382.2" fill="#e9e9e9"/>
<polygon points="821.7,445.9 843.8,458.6 866.7,454.3 888.7,441.5 866.7,428.8 843.8,433.1" fill="#e9e9e9"/>
<polygon points="843.8,433.1 865.8,445.9 888.7,441.5 910.8,428.8 888.7,416.1 865.8,420.4" fill="#e9e9e9"/>
<polygon points="733.5,420.4 755.5,433.1 778.5,428.8 800.5,416.1 778.5,403.3 755.5,407.7" fill="#e9e9e9"/>
<polygon points="755.5,433.1 773.6,443.6 796.6,439.2 818.6,426.5 800.5,416.1 777.6,420.4" fill="#e9e9e9"/>
<polygon points="782.2,448.5 799.6,458.6 822.6,454.3 844.6,441.5 827.2,431.5 804.3,435.8" fill="#e9e9e9"/>
<polygon points="799.6,458.6 821.7,471.3 844.6,467 866.7,454.3 844.6,441.5 821.7,445.9" fill="#e9e9e9"/>
<polygon points="773.2,443.3 783.1,449 806,444.7 828.1,432 818.2,426.3 795.2,430.6" fill="#e9e9e9"/>
<polygon points="777.6,420.4 821.7,445.9 865.8,420.4 821.7,394.9" fill="#92f90e"/>
<clipPath id="c4">
<polygon points="777.6,420.4 821.7,445.9 865.8,420.4 821.7,394.9"/>
</clipPath>
<polygon points="799.6,382.2 821.7,394.9 844.6,390.6 866.7,377.9 844.6,365.2 821.7,369.5" fill="#6fe00f" clip-path="url(#c4)"/>
<polygon points="821.7,394.9 843.8,407.7 866.7,403.3 888.7,390.6 866.7,377.9 843.8,382.2" fill="#6fe00f" clip-path="url(#c4)"/>
<polygon points="843.8,407.7 865.8,420.4 888.7,416.1 910.8,403.3 888.7,390.6 865.8,394.9" fill="#6fe00f" clip-path="url(#c4)"/>
<polygon points="865.8,420.4 887.9,433.1 910.8,428.8 932.8,416.1 910.8,403.3 887.9,407.7" fill="#6fe00f" clip-path="url(#c4)"/>
<polygon points="755.5,407.7 777.6,420.4 800.5,416.1 822.6,403.3 800.5,390.6 777.6,394.9" fill="#6fe00f" clip-path="url(#c4)"/>
<polygon points="777.6,394.9 799.6,407.7 822.6,403.3 844.6,390.6 822.6,377.9 799.6,382.2" fill="#6fe00f" clip-path="url(#c4)"/>
<polygon points="821.7,445.9 843.8,458.6 866.7,454.3 888.7,441.5 866.7,428.8 843.8,433.1" fill="#6fe00f" clip-path="url(#c4)"/>
<polygon points="843.8,433.1 865.8,445.9 888.7,441.5 910.8,428.8 888.7,416.1 865.8,420.4" fill="#6fe00f" clip-path="url(#c4)"/>
<polygon points="733.5,420.4 755.5,433.1 778.5,428.8 800.5,416.1 778.5,403.3 755.5,407.7" fill="#6fe00f" clip-path="url(#c4)"/>
<polygon points="755.5,433.1 773.6,443.6 796.6,439.2 818.6,426.5 800.5,416.1 777.6,420.4" fill="#6fe00f" clip-path="url(#c4)"/>
<polygon points="782.2,448.5 799.6,458.6 822.6,454.3 844.6,441.5 827.2,431.5 804.3,435.8" fill="#6fe00f" clip-path="url(#c4)"/>
<polygon points="799.6,458.6 821.7,471.3 844.6,467 866.7,454.3 844.6,441.5 821.7,445.9" fill="#6fe00f" clip-path="url(#c4)"/>
<polygon points="773.2,443.3 783.1,449 806,444.7 828.1,432 818.2,426.3 795.2,430.6" fill="#6fe00f" clip-path="url(#c4)"/>
<polyline points="704.4,424.5 814.6,488.1" fill="none" stroke="#ff6a2a" stroke-width="0.8"/>
<polyline points="714.8,424.5 704.4,424.5 704.4,430.5" fill="none" stroke="#ff6a2a" stroke-width="0.8"/>
<polyline points="814.6,482.1 814.6,488.1 804.2,488.1" fill="none" stroke="#ff6a2a" stroke-width="0.8"/>
<polyline points="759.5,456.3 770.5,449.9" fill="none" stroke="#ff6a2a" stroke-width="0.8"/>
<polyline points="770.5,455.9 770.5,449.9 760.1,449.9" fill="none" stroke="#ff6a2a" stroke-width="0.8"/>
<polyline points="784.9,424.6 821.7,403.3 851.2,420.4 814.4,441.7" fill="none" stroke="#ff6a2a" stroke-width="0.8"/>
<polyline points="795.9,418.2 788.6,414" fill="none" stroke="#ff6a2a" stroke-width="0.8"/>
<polyline points="793.7,414 788.6,414 788.6,417" fill="none" stroke="#ff6a2a" stroke-width="0.8"/>
<polyline points="818,405.5 810.7,401.3" fill="none" stroke="#ff6a2a" stroke-width="0.8"/>
<polyline points="815.7,401.3 810.7,401.3 810.7,404.2" fill="none" stroke="#ff6a2a" stroke-width="0.8"/>
<polyline points="825.4,405.5 832.7,401.3" fill="none" stroke="#ff6a2a" stroke-width="0.8"/>
<polyline points="832.7,404.2 832.7,401.3 827.7,401.3" fill="none" stroke="#ff6a2a" stroke-width="0.8"/>
<polyline points="843.8,416.1 851,411.9" fill="none" stroke="#ff6a2a" stroke-width="0.8"/>
<polyline points="851,414.8 851,411.9 846,411.9" fill="none" stroke="#ff6a2a" stroke-width="0.8"/>
<polyline points="825.4,435.3 832.7,439.5" fill="none" stroke="#ff6a2a" stroke-width="0.8"/>
<polyline points="832.7,436.6 832.7,439.5 827.7,439.5" fill="none" stroke="#ff6a2a" stroke-width="0.8"/>
<polyline points="847.5,422.6 854.8,426.8" fill="none" stroke="#ff6a2a" stroke-width="0.8"/>
<polyline points="854.8,423.8 854.8,426.8 849.7,426.8" fill="none" stroke="#ff6a2a" stroke-width="0.8"/>
<polyline points="778.7,445.2 799.6,433.1" fill="none" stroke="#ff6a2a" stroke-width="0.6"/>
<polygon points="799.6,382.2 821.7,394.9 843.8,382.2 843.8,369.5 821.7,356.8 799.6,369.5" fill="#fff" fill-opacity="0.95"/>
<polyline points="821.7,369.5 843.8,382.2" fill="none" stroke="#e9e9e9" stroke-width="0.5"/>
<polyline points="821.7,369.5 799.6,382.2" fill="none" stroke="#e9e9e9" stroke-width="0.5"/>
<polyline points="821.7,369.5 821.7,356.8" fill="none" stroke="#e9e9e9" stroke-width="0.5"/>
<polyline points="799.6,369.5 821.7,382.2 843.8,369.5 821.7,356.8 799.6,369.5 799.6,382.2 821.7,394.9 843.8,382.2 843.8,369.5" fill="none" stroke="#939393" stroke-width="0.65" stroke-linejoin="round"/>
<polyline points="821.7,394.9 821.7,382.2" fill="none" stroke="#939393" stroke-width="0.65"/>
<polygon points="777.6,394.9 799.6,407.7 821.7,394.9 821.7,382.2 799.6,369.5 777.6,382.2" fill="#fff" fill-opacity="0.95"/>
<polyline points="799.6,382.2 821.7,394.9" fill="none" stroke="#e9e9e9" stroke-width="0.5"/>
<polyline points="799.6,382.2 777.6,394.9" fill="none" stroke="#e9e9e9" stroke-width="0.5"/>
<polyline points="799.6,382.2 799.6,369.5" fill="none" stroke="#e9e9e9" stroke-width="0.5"/>
<polyline points="777.6,382.2 799.6,395 821.7,382.2 799.6,369.5 777.6,382.2 777.6,394.9 799.6,407.7 821.7,394.9 821.7,382.2" fill="none" stroke="#939393" stroke-width="0.65" stroke-linejoin="round"/>
<polyline points="799.6,407.7 799.6,395" fill="none" stroke="#939393" stroke-width="0.65"/>
<polygon points="821.7,394.9 843.8,407.7 865.8,394.9 865.8,382.2 843.8,369.5 821.7,382.2" fill="#fff" fill-opacity="0.95"/>
<polyline points="843.8,382.2 865.8,394.9" fill="none" stroke="#e9e9e9" stroke-width="0.5"/>
<polyline points="843.8,382.2 821.7,394.9" fill="none" stroke="#e9e9e9" stroke-width="0.5"/>
<polyline points="843.8,382.2 843.8,369.5" fill="none" stroke="#e9e9e9" stroke-width="0.5"/>
<polyline points="821.7,382.2 843.8,395 865.8,382.2 843.8,369.5 821.7,382.2 821.7,394.9 843.8,407.7 865.8,394.9 865.8,382.2" fill="none" stroke="#939393" stroke-width="0.65" stroke-linejoin="round"/>
<polyline points="843.8,407.7 843.8,395" fill="none" stroke="#939393" stroke-width="0.65"/>
<polygon points="755.5,407.7 777.6,420.4 799.6,407.7 799.6,395 777.6,382.2 755.5,395" fill="#fff" fill-opacity="0.95"/>
<polyline points="777.6,394.9 799.6,407.7" fill="none" stroke="#e9e9e9" stroke-width="0.5"/>
<polyline points="777.6,394.9 755.5,407.7" fill="none" stroke="#e9e9e9" stroke-width="0.5"/>
<polyline points="777.6,394.9 777.6,382.2" fill="none" stroke="#e9e9e9" stroke-width="0.5"/>
<polyline points="755.5,395 777.6,407.7 799.6,395 777.6,382.2 755.5,395 755.5,407.7 777.6,420.4 799.6,407.7 799.6,395" fill="none" stroke="#939393" stroke-width="0.65" stroke-linejoin="round"/>
<polyline points="777.6,420.4 777.6,407.7" fill="none" stroke="#939393" stroke-width="0.65"/>
<polygon points="843.8,407.7 865.8,420.4 887.9,407.7 887.9,395 865.8,382.2 843.8,395" fill="#fff" fill-opacity="0.95"/>
<polyline points="865.8,394.9 887.9,407.7" fill="none" stroke="#e9e9e9" stroke-width="0.5"/>
<polyline points="865.8,394.9 843.8,407.7" fill="none" stroke="#e9e9e9" stroke-width="0.5"/>
<polyline points="865.8,394.9 865.8,382.2" fill="none" stroke="#e9e9e9" stroke-width="0.5"/>
<polyline points="843.8,395 865.8,407.7 887.9,395 865.8,382.2 843.8,395 843.8,407.7 865.8,420.4 887.9,407.7 887.9,395" fill="none" stroke="#939393" stroke-width="0.65" stroke-linejoin="round"/>
<polyline points="865.8,420.4 865.8,407.7" fill="none" stroke="#939393" stroke-width="0.65"/>
<polygon points="733.5,420.4 755.5,433.1 777.6,420.4 777.6,407.7 755.5,395 733.5,407.7" fill="#fff" fill-opacity="0.95"/>
<polyline points="755.5,407.7 777.6,420.4" fill="none" stroke="#e9e9e9" stroke-width="0.5"/>
<polyline points="755.5,407.7 733.5,420.4" fill="none" stroke="#e9e9e9" stroke-width="0.5"/>
<polyline points="755.5,407.7 755.5,395" fill="none" stroke="#e9e9e9" stroke-width="0.5"/>
<polyline points="733.5,407.7 755.5,420.4 777.6,407.7 755.5,395 733.5,407.7 733.5,420.4 755.5,433.1 777.6,420.4 777.6,407.7" fill="none" stroke="#939393" stroke-width="0.65" stroke-linejoin="round"/>
<polyline points="755.5,433.1 755.5,420.4" fill="none" stroke="#939393" stroke-width="0.65"/>
<polygon points="865.8,420.4 887.9,433.1 909.9,420.4 909.9,407.7 887.9,395 865.8,407.7" fill="#fff" fill-opacity="0.95"/>
<polyline points="887.9,407.7 909.9,420.4" fill="none" stroke="#e9e9e9" stroke-width="0.5"/>
<polyline points="887.9,407.7 865.8,420.4" fill="none" stroke="#e9e9e9" stroke-width="0.5"/>
<polyline points="887.9,407.7 887.9,395" fill="none" stroke="#e9e9e9" stroke-width="0.5"/>
<polyline points="865.8,407.7 887.9,420.4 909.9,407.7 887.9,395 865.8,407.7 865.8,420.4 887.9,433.1 909.9,420.4 909.9,407.7" fill="none" stroke="#939393" stroke-width="0.65" stroke-linejoin="round"/>
<polyline points="887.9,433.1 887.9,420.4" fill="none" stroke="#939393" stroke-width="0.65"/>
<polygon points="755.5,433.1 773.6,443.6 795.7,430.8 795.7,418.1 777.6,407.7 755.5,420.4" fill="#fff" fill-opacity="0.95"/>
<polyline points="777.6,420.4 795.7,430.8" fill="none" stroke="#e9e9e9" stroke-width="0.5"/>
<polyline points="777.6,420.4 755.5,433.1" fill="none" stroke="#e9e9e9" stroke-width="0.5"/>
<polyline points="777.6,420.4 777.6,407.7" fill="none" stroke="#e9e9e9" stroke-width="0.5"/>
<polyline points="755.5,420.4 773.6,430.9 795.7,418.1 777.6,407.7 755.5,420.4 755.5,433.1 773.6,443.6 795.7,430.8 795.7,418.1" fill="none" stroke="#939393" stroke-width="0.65" stroke-linejoin="round"/>
<polyline points="773.6,443.6 773.6,430.9" fill="none" stroke="#939393" stroke-width="0.65"/>
<polygon points="843.8,433.1 865.8,445.9 887.9,433.1 887.9,420.4 865.8,407.7 843.8,420.4" fill="#fff" fill-opacity="0.95"/>
<polyline points="865.8,420.4 887.9,433.1" fill="none" stroke="#e9e9e9" stroke-width="0.5"/>
<polyline points="865.8,420.4 843.8,433.1" fill="none" stroke="#e9e9e9" stroke-width="0.5"/>
<polyline points="865.8,420.4 865.8,407.7" fill="none" stroke="#e9e9e9" stroke-width="0.5"/>
<polyline points="843.8,420.4 865.8,433.2 887.9,420.4 865.8,407.7 843.8,420.4 843.8,433.1 865.8,445.9 887.9,433.1 887.9,420.4" fill="none" stroke="#939393" stroke-width="0.65" stroke-linejoin="round"/>
<polyline points="865.8,445.9 865.8,433.2" fill="none" stroke="#939393" stroke-width="0.65"/>
<polygon points="821.7,445.9 843.8,458.6 865.8,445.9 865.8,433.2 843.8,420.4 821.7,433.2" fill="#fff" fill-opacity="0.95"/>
<polyline points="843.8,433.1 865.8,445.9" fill="none" stroke="#e9e9e9" stroke-width="0.5"/>
<polyline points="843.8,433.1 821.7,445.9" fill="none" stroke="#e9e9e9" stroke-width="0.5"/>
<polyline points="843.8,433.1 843.8,420.4" fill="none" stroke="#e9e9e9" stroke-width="0.5"/>
<polyline points="821.7,433.2 843.8,445.9 865.8,433.2 843.8,420.4 821.7,433.2 821.7,445.9 843.8,458.6 865.8,445.9 865.8,433.2" fill="none" stroke="#939393" stroke-width="0.65" stroke-linejoin="round"/>
<polyline points="843.8,458.6 843.8,445.9" fill="none" stroke="#939393" stroke-width="0.65"/>
<polygon points="782.2,448.5 799.6,458.6 821.7,445.9 821.7,433.2 804.3,423.1 782.2,435.8" fill="#fff" fill-opacity="0.95"/>
<polyline points="804.3,435.8 821.7,445.9" fill="none" stroke="#e9e9e9" stroke-width="0.5"/>
<polyline points="804.3,435.8 782.2,448.5" fill="none" stroke="#e9e9e9" stroke-width="0.5"/>
<polyline points="804.3,435.8 804.3,423.1" fill="none" stroke="#e9e9e9" stroke-width="0.5"/>
<polyline points="782.2,435.8 799.6,445.9 821.7,433.2 804.3,423.1 782.2,435.8 782.2,448.5 799.6,458.6 821.7,445.9 821.7,433.2" fill="none" stroke="#939393" stroke-width="0.65" stroke-linejoin="round"/>
<polyline points="799.6,458.6 799.6,445.9" fill="none" stroke="#939393" stroke-width="0.65"/>
<polygon points="799.6,458.6 821.7,471.3 843.8,458.6 843.8,445.9 821.7,433.2 799.6,445.9" fill="#fff" fill-opacity="0.95"/>
<polyline points="821.7,445.9 843.8,458.6" fill="none" stroke="#e9e9e9" stroke-width="0.5"/>
<polyline points="821.7,445.9 799.6,458.6" fill="none" stroke="#e9e9e9" stroke-width="0.5"/>
<polyline points="821.7,445.9 821.7,433.2" fill="none" stroke="#e9e9e9" stroke-width="0.5"/>
<polyline points="799.6,445.9 821.7,458.6 843.8,445.9 821.7,433.2 799.6,445.9 799.6,458.6 821.7,471.3 843.8,458.6 843.8,445.9" fill="none" stroke="#939393" stroke-width="0.65" stroke-linejoin="round"/>
<polyline points="821.7,471.3 821.7,458.6" fill="none" stroke="#939393" stroke-width="0.65"/>
<polygon points="773.6,430.9 782.2,435.8 804.3,423.1 795.7,418.1" fill="#ff8843"/>
<polygon points="795.7,418.1 804.3,423.1 795.7,428.1" fill="#ff6a14"/>
<polygon points="773.6,443.6 782.2,448.5 782.2,435.8 773.6,430.9" fill="#ff7526"/>
<polygon points="773.6,430.9 782.2,435.8 782.2,441.5 773.6,434" fill="#ff6a14"/>
<polygon points="1063.9,382.2 1085.9,394.9 1108.8,390.6 1130.9,377.9 1108.8,365.2 1085.9,369.5" fill="#e9e9e9"/>
<polygon points="1085.9,394.9 1108,407.7 1130.9,403.3 1152.9,390.6 1130.9,377.9 1108,382.2" fill="#e9e9e9"/>
<polygon points="1108,407.7 1130,420.4 1152.9,416.1 1175,403.3 1152.9,390.6 1130,394.9" fill="#e9e9e9"/>
<polygon points="1130,420.4 1152.1,433.1 1175,428.8 1197,416.1 1175,403.3 1152.1,407.7" fill="#e9e9e9"/>
<polygon points="1019.8,407.7 1041.8,420.4 1064.7,416.1 1086.8,403.3 1064.7,390.6 1041.8,394.9" fill="#e9e9e9"/>
<polygon points="1041.8,394.9 1063.8,407.7 1086.8,403.3 1108.8,390.6 1086.8,377.9 1063.9,382.2" fill="#e9e9e9"/>
<polygon points="1085.9,445.9 1108,458.6 1130.9,454.3 1152.9,441.5 1130.9,428.8 1108,433.1" fill="#e9e9e9"/>
<polygon points="1108,433.1 1130,445.9 1152.9,441.5 1175,428.8 1152.9,416.1 1130,420.4" fill="#e9e9e9"/>
<polygon points="997.7,420.4 1019.8,433.1 1042.7,428.8 1064.7,416.1 1042.7,403.3 1019.8,407.7" fill="#e9e9e9"/>
<polygon points="1019.8,433.1 1037.8,443.6 1060.8,439.2 1082.8,426.5 1064.7,416.1 1041.8,420.4" fill="#e9e9e9"/>
<polygon points="1046.4,448.5 1063.9,458.6 1086.8,454.3 1108.8,441.5 1091.4,431.5 1068.5,435.8" fill="#e9e9e9"/>
<polygon points="1063.9,458.6 1085.9,471.3 1108.8,467 1130.9,454.3 1108.8,441.5 1085.9,445.9" fill="#e9e9e9"/>
<polygon points="1037.4,443.3 1047.3,449 1070.2,444.7 1092.3,432 1082.4,426.3 1059.4,430.6" fill="#e9e9e9"/>
<polygon points="1041.8,420.4 1085.9,445.9 1130,420.4 1085.9,394.9" fill="#92f90e"/>
<clipPath id="c5">
<polygon points="1041.8,420.4 1085.9,445.9 1130,420.4 1085.9,394.9"/>
</clipPath>
<polygon points="1063.9,382.2 1085.9,394.9 1108.8,390.6 1130.9,377.9 1108.8,365.2 1085.9,369.5" fill="#6fe00f" clip-path="url(#c5)"/>
<polygon points="1085.9,394.9 1108,407.7 1130.9,403.3 1152.9,390.6 1130.9,377.9 1108,382.2" fill="#6fe00f" clip-path="url(#c5)"/>
<polygon points="1108,407.7 1130,420.4 1152.9,416.1 1175,403.3 1152.9,390.6 1130,394.9" fill="#6fe00f" clip-path="url(#c5)"/>
<polygon points="1130,420.4 1152.1,433.1 1175,428.8 1197,416.1 1175,403.3 1152.1,407.7" fill="#6fe00f" clip-path="url(#c5)"/>
<polygon points="1019.8,407.7 1041.8,420.4 1064.7,416.1 1086.8,403.3 1064.7,390.6 1041.8,394.9" fill="#6fe00f" clip-path="url(#c5)"/>
<polygon points="1041.8,394.9 1063.8,407.7 1086.8,403.3 1108.8,390.6 1086.8,377.9 1063.9,382.2" fill="#6fe00f" clip-path="url(#c5)"/>
<polygon points="1085.9,445.9 1108,458.6 1130.9,454.3 1152.9,441.5 1130.9,428.8 1108,433.1" fill="#6fe00f" clip-path="url(#c5)"/>
<polygon points="1108,433.1 1130,445.9 1152.9,441.5 1175,428.8 1152.9,416.1 1130,420.4" fill="#6fe00f" clip-path="url(#c5)"/>
<polygon points="997.7,420.4 1019.8,433.1 1042.7,428.8 1064.7,416.1 1042.7,403.3 1019.8,407.7" fill="#6fe00f" clip-path="url(#c5)"/>
<polygon points="1019.8,433.1 1037.8,443.6 1060.8,439.2 1082.8,426.5 1064.7,416.1 1041.8,420.4" fill="#6fe00f" clip-path="url(#c5)"/>
<polygon points="1046.4,448.5 1063.9,458.6 1086.8,454.3 1108.8,441.5 1091.4,431.5 1068.5,435.8" fill="#6fe00f" clip-path="url(#c5)"/>
<polygon points="1063.9,458.6 1085.9,471.3 1108.8,467 1130.9,454.3 1108.8,441.5 1085.9,445.9" fill="#6fe00f" clip-path="url(#c5)"/>
<polygon points="1037.4,443.3 1047.3,449 1070.2,444.7 1092.3,432 1082.4,426.3 1059.4,430.6" fill="#6fe00f" clip-path="url(#c5)"/>
<polyline points="968.6,424.5 1078.8,488.1" fill="none" stroke="#ff6a2a" stroke-width="0.8"/>
<polyline points="979,424.5 968.6,424.5 968.6,430.5" fill="none" stroke="#ff6a2a" stroke-width="0.8"/>
<polyline points="1078.8,482.1 1078.8,488.1 1068.4,488.1" fill="none" stroke="#ff6a2a" stroke-width="0.8"/>
<polyline points="1023.7,456.3 1034.7,449.9" fill="none" stroke="#ff6a2a" stroke-width="0.8"/>
<polyline points="1034.7,455.9 1034.7,449.9 1024.3,449.9" fill="none" stroke="#ff6a2a" stroke-width="0.8"/>
<polyline points="1049.1,424.6 1085.9,403.3 1115.4,420.4 1078.6,441.7" fill="none" stroke="#ff6a2a" stroke-width="0.8"/>
<polyline points="1060.1,418.2 1052.8,414" fill="none" stroke="#ff6a2a" stroke-width="0.8"/>
<polyline points="1057.9,414 1052.8,414 1052.8,417" fill="none" stroke="#ff6a2a" stroke-width="0.8"/>
<polyline points="1082.2,405.5 1074.9,401.3" fill="none" stroke="#ff6a2a" stroke-width="0.8"/>
<polyline points="1079.9,401.3 1074.9,401.3 1074.9,404.2" fill="none" stroke="#ff6a2a" stroke-width="0.8"/>
<polyline points="1089.6,405.5 1096.9,401.3" fill="none" stroke="#ff6a2a" stroke-width="0.8"/>
<polyline points="1096.9,404.2 1096.9,401.3 1091.9,401.3" fill="none" stroke="#ff6a2a" stroke-width="0.8"/>
<polyline points="1108,416.1 1115.2,411.9" fill="none" stroke="#ff6a2a" stroke-width="0.8"/>
<polyline points="1115.2,414.8 1115.2,411.9 1110.2,411.9" fill="none" stroke="#ff6a2a" stroke-width="0.8"/>
<polyline points="1089.6,435.3 1096.9,439.5" fill="none" stroke="#ff6a2a" stroke-width="0.8"/>
<polyline points="1096.9,436.6 1096.9,439.5 1091.9,439.5" fill="none" stroke="#ff6a2a" stroke-width="0.8"/>
<polyline points="1111.7,422.6 1119,426.8" fill="none" stroke="#ff6a2a" stroke-width="0.8"/>
<polyline points="1119,423.8 1119,426.8 1113.9,426.8" fill="none" stroke="#ff6a2a" stroke-width="0.8"/>
<polyline points="1042.9,445.2 1063.8,433.1" fill="none" stroke="#ff6a2a" stroke-width="0.6"/>
<polygon points="1063.9,382.2 1085.9,394.9 1108,382.2 1108,369.5 1085.9,356.8 1063.9,369.5" fill="#fff" fill-opacity="0.95"/>
<polyline points="1085.9,369.5 1108,382.2" fill="none" stroke="#e9e9e9" stroke-width="0.5"/>
<polyline points="1085.9,369.5 1063.9,382.2" fill="none" stroke="#e9e9e9" stroke-width="0.5"/>
<polyline points="1085.9,369.5 1085.9,356.8" fill="none" stroke="#e9e9e9" stroke-width="0.5"/>
<polyline points="1063.9,369.5 1085.9,382.2 1108,369.5 1085.9,356.8 1063.9,369.5 1063.9,382.2 1085.9,394.9 1108,382.2 1108,369.5" fill="none" stroke="#939393" stroke-width="0.65" stroke-linejoin="round"/>
<polyline points="1085.9,394.9 1085.9,382.2" fill="none" stroke="#939393" stroke-width="0.65"/>
<polygon points="1041.8,394.9 1063.8,407.7 1085.9,394.9 1085.9,382.2 1063.9,369.5 1041.8,382.2" fill="#fff" fill-opacity="0.95"/>
<polyline points="1063.9,382.2 1085.9,394.9" fill="none" stroke="#e9e9e9" stroke-width="0.5"/>
<polyline points="1063.9,382.2 1041.8,394.9" fill="none" stroke="#e9e9e9" stroke-width="0.5"/>
<polyline points="1063.9,382.2 1063.9,369.5" fill="none" stroke="#e9e9e9" stroke-width="0.5"/>
<polyline points="1041.8,382.2 1063.8,395 1085.9,382.2 1063.9,369.5 1041.8,382.2 1041.8,394.9 1063.8,407.7 1085.9,394.9 1085.9,382.2" fill="none" stroke="#939393" stroke-width="0.65" stroke-linejoin="round"/>
<polyline points="1063.8,407.7 1063.8,395" fill="none" stroke="#939393" stroke-width="0.65"/>
<polygon points="1085.9,394.9 1108,407.7 1130,394.9 1130,382.2 1108,369.5 1085.9,382.2" fill="#fff" fill-opacity="0.95"/>
<polyline points="1108,382.2 1130,394.9" fill="none" stroke="#e9e9e9" stroke-width="0.5"/>
<polyline points="1108,382.2 1085.9,394.9" fill="none" stroke="#e9e9e9" stroke-width="0.5"/>
<polyline points="1108,382.2 1108,369.5" fill="none" stroke="#e9e9e9" stroke-width="0.5"/>
<polyline points="1085.9,382.2 1108,395 1130,382.2 1108,369.5 1085.9,382.2 1085.9,394.9 1108,407.7 1130,394.9 1130,382.2" fill="none" stroke="#939393" stroke-width="0.65" stroke-linejoin="round"/>
<polyline points="1108,407.7 1108,395" fill="none" stroke="#939393" stroke-width="0.65"/>
<polygon points="1019.8,407.7 1041.8,420.4 1063.8,407.7 1063.8,395 1041.8,382.2 1019.8,395" fill="#fff" fill-opacity="0.95"/>
<polyline points="1041.8,394.9 1063.8,407.7" fill="none" stroke="#e9e9e9" stroke-width="0.5"/>
<polyline points="1041.8,394.9 1019.8,407.7" fill="none" stroke="#e9e9e9" stroke-width="0.5"/>
<polyline points="1041.8,394.9 1041.8,382.2" fill="none" stroke="#e9e9e9" stroke-width="0.5"/>
<polyline points="1019.8,395 1041.8,407.7 1063.8,395 1041.8,382.2 1019.8,395 1019.8,407.7 1041.8,420.4 1063.8,407.7 1063.8,395" fill="none" stroke="#939393" stroke-width="0.65" stroke-linejoin="round"/>
<polyline points="1041.8,420.4 1041.8,407.7" fill="none" stroke="#939393" stroke-width="0.65"/>
<polygon points="1108,407.7 1130,420.4 1152.1,407.7 1152.1,395 1130,382.2 1108,395" fill="#fff" fill-opacity="0.95"/>
<polyline points="1130,394.9 1152.1,407.7" fill="none" stroke="#e9e9e9" stroke-width="0.5"/>
<polyline points="1130,394.9 1108,407.7" fill="none" stroke="#e9e9e9" stroke-width="0.5"/>
<polyline points="1130,394.9 1130,382.2" fill="none" stroke="#e9e9e9" stroke-width="0.5"/>
<polyline points="1108,395 1130,407.7 1152.1,395 1130,382.2 1108,395 1108,407.7 1130,420.4 1152.1,407.7 1152.1,395" fill="none" stroke="#939393" stroke-width="0.65" stroke-linejoin="round"/>
<polyline points="1130,420.4 1130,407.7" fill="none" stroke="#939393" stroke-width="0.65"/>
<polygon points="997.7,420.4 1019.8,433.1 1041.8,420.4 1041.8,407.7 1019.8,395 997.7,407.7" fill="#fff" fill-opacity="0.95"/>
<polyline points="1019.8,407.7 1041.8,420.4" fill="none" stroke="#e9e9e9" stroke-width="0.5"/>
<polyline points="1019.8,407.7 997.7,420.4" fill="none" stroke="#e9e9e9" stroke-width="0.5"/>
<polyline points="1019.8,407.7 1019.8,395" fill="none" stroke="#e9e9e9" stroke-width="0.5"/>
<polyline points="997.7,407.7 1019.8,420.4 1041.8,407.7 1019.8,395 997.7,407.7 997.7,420.4 1019.8,433.1 1041.8,420.4 1041.8,407.7" fill="none" stroke="#939393" stroke-width="0.65" stroke-linejoin="round"/>
<polyline points="1019.8,433.1 1019.8,420.4" fill="none" stroke="#939393" stroke-width="0.65"/>
<polygon points="1130,420.4 1152.1,433.1 1174.1,420.4 1174.1,407.7 1152.1,395 1130,407.7" fill="#fff" fill-opacity="0.95"/>
<polyline points="1152.1,407.7 1174.1,420.4" fill="none" stroke="#e9e9e9" stroke-width="0.5"/>
<polyline points="1152.1,407.7 1130,420.4" fill="none" stroke="#e9e9e9" stroke-width="0.5"/>
<polyline points="1152.1,407.7 1152.1,395" fill="none" stroke="#e9e9e9" stroke-width="0.5"/>
<polyline points="1130,407.7 1152.1,420.4 1174.1,407.7 1152.1,395 1130,407.7 1130,420.4 1152.1,433.1 1174.1,420.4 1174.1,407.7" fill="none" stroke="#939393" stroke-width="0.65" stroke-linejoin="round"/>
<polyline points="1152.1,433.1 1152.1,420.4" fill="none" stroke="#939393" stroke-width="0.65"/>
<polygon points="1019.8,433.1 1037.8,443.6 1059.9,430.8 1059.9,418.1 1041.8,407.7 1019.8,420.4" fill="#fff" fill-opacity="0.95"/>
<polyline points="1041.8,420.4 1059.9,430.8" fill="none" stroke="#e9e9e9" stroke-width="0.5"/>
<polyline points="1041.8,420.4 1019.8,433.1" fill="none" stroke="#e9e9e9" stroke-width="0.5"/>
<polyline points="1041.8,420.4 1041.8,407.7" fill="none" stroke="#e9e9e9" stroke-width="0.5"/>
<polyline points="1019.8,420.4 1037.8,430.9 1059.9,418.1 1041.8,407.7 1019.8,420.4 1019.8,433.1 1037.8,443.6 1059.9,430.8 1059.9,418.1" fill="none" stroke="#939393" stroke-width="0.65" stroke-linejoin="round"/>
<polyline points="1037.8,443.6 1037.8,430.9" fill="none" stroke="#939393" stroke-width="0.65"/>
<polygon points="1108,433.1 1130,445.9 1152.1,433.1 1152.1,420.4 1130,407.7 1108,420.4" fill="#fff" fill-opacity="0.95"/>
<polyline points="1130,420.4 1152.1,433.1" fill="none" stroke="#e9e9e9" stroke-width="0.5"/>
<polyline points="1130,420.4 1108,433.1" fill="none" stroke="#e9e9e9" stroke-width="0.5"/>
<polyline points="1130,420.4 1130,407.7" fill="none" stroke="#e9e9e9" stroke-width="0.5"/>
<polyline points="1108,420.4 1130,433.2 1152.1,420.4 1130,407.7 1108,420.4 1108,433.1 1130,445.9 1152.1,433.1 1152.1,420.4" fill="none" stroke="#939393" stroke-width="0.65" stroke-linejoin="round"/>
<polyline points="1130,445.9 1130,433.2" fill="none" stroke="#939393" stroke-width="0.65"/>
<polygon points="1085.9,445.9 1108,458.6 1130,445.9 1130,433.2 1108,420.4 1085.9,433.2" fill="#fff" fill-opacity="0.95"/>
<polyline points="1108,433.1 1130,445.9" fill="none" stroke="#e9e9e9" stroke-width="0.5"/>
<polyline points="1108,433.1 1085.9,445.9" fill="none" stroke="#e9e9e9" stroke-width="0.5"/>
<polyline points="1108,433.1 1108,420.4" fill="none" stroke="#e9e9e9" stroke-width="0.5"/>
<polyline points="1085.9,433.2 1108,445.9 1130,433.2 1108,420.4 1085.9,433.2 1085.9,445.9 1108,458.6 1130,445.9 1130,433.2" fill="none" stroke="#939393" stroke-width="0.65" stroke-linejoin="round"/>
<polyline points="1108,458.6 1108,445.9" fill="none" stroke="#939393" stroke-width="0.65"/>
<polygon points="1046.4,448.5 1063.9,458.6 1085.9,445.9 1085.9,433.2 1068.5,423.1 1046.4,435.8" fill="#fff" fill-opacity="0.95"/>
<polyline points="1068.5,435.8 1085.9,445.9" fill="none" stroke="#e9e9e9" stroke-width="0.5"/>
<polyline points="1068.5,435.8 1046.4,448.5" fill="none" stroke="#e9e9e9" stroke-width="0.5"/>
<polyline points="1068.5,435.8 1068.5,423.1" fill="none" stroke="#e9e9e9" stroke-width="0.5"/>
<polyline points="1046.4,435.8 1063.9,445.9 1085.9,433.2 1068.5,423.1 1046.4,435.8 1046.4,448.5 1063.9,458.6 1085.9,445.9 1085.9,433.2" fill="none" stroke="#939393" stroke-width="0.65" stroke-linejoin="round"/>
<polyline points="1063.9,458.6 1063.9,445.9" fill="none" stroke="#939393" stroke-width="0.65"/>
<polygon points="1063.9,458.6 1085.9,471.3 1108,458.6 1108,445.9 1085.9,433.2 1063.9,445.9" fill="#fff" fill-opacity="0.95"/>
<polyline points="1085.9,445.9 1108,458.6" fill="none" stroke="#e9e9e9" stroke-width="0.5"/>
<polyline points="1085.9,445.9 1063.9,458.6" fill="none" stroke="#e9e9e9" stroke-width="0.5"/>
<polyline points="1085.9,445.9 1085.9,433.2" fill="none" stroke="#e9e9e9" stroke-width="0.5"/>
<polyline points="1063.9,445.9 1085.9,458.6 1108,445.9 1085.9,433.2 1063.9,445.9 1063.9,458.6 1085.9,471.3 1108,458.6 1108,445.9" fill="none" stroke="#939393" stroke-width="0.65" stroke-linejoin="round"/>
<polyline points="1085.9,471.3 1085.9,458.6" fill="none" stroke="#939393" stroke-width="0.65"/>
<polygon points="1037.8,430.9 1046.4,435.8 1068.5,423.1 1059.9,418.1" fill="#ff7020"/>
<polygon points="1037.8,443.6 1046.4,448.5 1046.4,435.8 1037.8,430.9" fill="#ff6a14"/>
<polygon points="1041.8,407.7 1085.9,433.2 1130,407.7 1085.9,382.2" fill="#93f90d" fill-opacity="0.8"/>
<clipPath id="c6">
<polygon points="1041.8,407.7 1085.9,433.2 1130,407.7 1085.9,382.2"/>
</clipPath>
<g clip-path="url(#c6)">
<polyline points="1049.1,424.6 1085.9,403.3 1115.4,420.4 1078.6,441.7" fill="none" stroke="#ff6a2a" stroke-width="0.8" stroke-opacity="0.2"/>
<polyline points="1060.1,418.2 1052.8,414" fill="none" stroke="#ff6a2a" stroke-width="0.8" stroke-opacity="0.2"/>
<polyline points="1057.9,414 1052.8,414 1052.8,417" fill="none" stroke="#ff6a2a" stroke-width="0.8" stroke-opacity="0.2"/>
<polyline points="1082.2,405.5 1074.9,401.3" fill="none" stroke="#ff6a2a" stroke-width="0.8" stroke-opacity="0.2"/>
<polyline points="1079.9,401.3 1074.9,401.3 1074.9,404.2" fill="none" stroke="#ff6a2a" stroke-width="0.8" stroke-opacity="0.2"/>
<polyline points="1089.6,405.5 1096.9,401.3" fill="none" stroke="#ff6a2a" stroke-width="0.8" stroke-opacity="0.2"/>
<polyline points="1096.9,404.2 1096.9,401.3 1091.9,401.3" fill="none" stroke="#ff6a2a" stroke-width="0.8" stroke-opacity="0.2"/>
<polyline points="1108,416.1 1115.2,411.9" fill="none" stroke="#ff6a2a" stroke-width="0.8" stroke-opacity="0.2"/>
<polyline points="1115.2,414.8 1115.2,411.9 1110.2,411.9" fill="none" stroke="#ff6a2a" stroke-width="0.8" stroke-opacity="0.2"/>
<polyline points="1089.6,435.3 1096.9,439.5" fill="none" stroke="#ff6a2a" stroke-width="0.8" stroke-opacity="0.2"/>
<polyline points="1096.9,436.6 1096.9,439.5 1091.9,439.5" fill="none" stroke="#ff6a2a" stroke-width="0.8" stroke-opacity="0.2"/>
<polyline points="1111.7,422.6 1119,426.8" fill="none" stroke="#ff6a2a" stroke-width="0.8" stroke-opacity="0.2"/>
<polyline points="1119,423.8 1119,426.8 1113.9,426.8" fill="none" stroke="#ff6a2a" stroke-width="0.8" stroke-opacity="0.2"/>
</g>
<polygon points="755.8,585.6 777.9,598.4 800.8,594 822.8,581.3 800.8,568.6 777.9,572.9" fill="#e9e9e9"/>
<polygon points="777.9,598.4 795.5,608.6 818.4,604.2 840.5,591.5 822.8,581.3 799.9,585.6" fill="#e9e9e9"/>
<polygon points="804.3,613.6 822,623.8 844.9,619.5 866.9,606.8 849.3,596.6 826.4,600.9" fill="#e9e9e9"/>
<polygon points="822,623.8 844,636.6 866.9,632.2 889,619.5 866.9,606.8 844,611.1" fill="#e9e9e9"/>
<polygon points="784.5,569.1 806.5,581.8 829.4,577.5 851.5,564.8 829.4,552 806.5,556.4" fill="#e9e9e9"/>
<polygon points="806.5,581.8 828.6,594.6 851.5,590.2 873.5,577.5 851.5,564.8 828.6,569.1" fill="#e9e9e9"/>
<polygon points="828.6,594.6 850.6,607.3 873.5,603 895.6,590.2 873.5,577.5 850.6,581.8" fill="#e9e9e9"/>
<polygon points="850.6,607.3 872.7,620 895.6,615.7 917.6,603 895.6,590.2 872.7,594.6" fill="#e9e9e9"/>
<polygon points="777.9,572.9 866.1,623.8 889,619.5 895.6,615.7 807.4,564.8 784.5,569.1" fill="#e9e9e9"/>
<polygon points="711.7,611.1 799.9,662 844,636.6 755.8,585.6" fill="#92f90e"/>
<polyline points="726.3,590 836.5,653.6" fill="none" stroke="#ff6a2a" stroke-width="0.8"/>
<polyline points="736.7,590 726.3,590 726.3,596" fill="none" stroke="#ff6a2a" stroke-width="0.8"/>
<polyline points="836.5,647.6 836.5,653.6 826.1,653.6" fill="none" stroke="#ff6a2a" stroke-width="0.8"/>
<polyline points="781.4,621.8 792.2,615.6" fill="none" stroke="#ff6a2a" stroke-width="0.8"/>
<polyline points="792.2,621.6 792.2,615.6 781.8,615.6" fill="none" stroke="#ff6a2a" stroke-width="0.8"/>
<polyline points="761.5,559.7 879.3,627.6" fill="none" stroke="#ff6a2a" stroke-width="0.8"/>
<polyline points="771.9,559.7 761.5,559.7 761.5,565.7" fill="none" stroke="#ff6a2a" stroke-width="0.8"/>
<polyline points="879.3,621.6 879.3,627.6 868.9,627.6" fill="none" stroke="#ff6a2a" stroke-width="0.8"/>
<polyline points="799.9,611.1 825.3,596.5" fill="none" stroke="#ff6a2a" stroke-width="0.6"/>
<polygon points="784.5,569.1 806.5,581.8 828.6,569.1 828.6,556.4 806.5,543.7 784.5,556.4" fill="#fff" fill-opacity="0.95"/>
<polyline points="806.5,556.4 828.6,569.1" fill="none" stroke="#e9e9e9" stroke-width="0.5"/>
<polyline points="806.5,556.4 784.5,569.1" fill="none" stroke="#e9e9e9" stroke-width="0.5"/>
<polyline points="806.5,556.4 806.5,543.7" fill="none" stroke="#e9e9e9" stroke-width="0.5"/>
<polyline points="784.5,556.4 806.5,569.1 828.6,556.4 806.5,543.7 784.5,556.4 784.5,569.1 806.5,581.8 828.6,569.1 828.6,556.4" fill="none" stroke="#939393" stroke-width="0.65" stroke-linejoin="round"/>
<polyline points="806.5,581.8 806.5,569.1" fill="none" stroke="#939393" stroke-width="0.65"/>
<polygon points="806.5,581.8 828.6,594.6 850.6,581.8 850.6,569.1 828.6,556.4 806.5,569.1" fill="#fff" fill-opacity="0.95"/>
<polyline points="828.6,569.1 850.6,581.8" fill="none" stroke="#e9e9e9" stroke-width="0.5"/>
<polyline points="828.6,569.1 806.5,581.8" fill="none" stroke="#e9e9e9" stroke-width="0.5"/>
<polyline points="828.6,569.1 828.6,556.4" fill="none" stroke="#e9e9e9" stroke-width="0.5"/>
<polyline points="806.5,569.1 828.6,581.9 850.6,569.1 828.6,556.4 806.5,569.1 806.5,581.8 828.6,594.6 850.6,581.8 850.6,569.1" fill="none" stroke="#939393" stroke-width="0.65" stroke-linejoin="round"/>
<polyline points="828.6,594.6 828.6,581.9" fill="none" stroke="#939393" stroke-width="0.65"/>
<polygon points="828.6,594.6 850.6,607.3 872.7,594.6 872.7,581.9 850.6,569.1 828.6,581.9" fill="#fff" fill-opacity="0.95"/>
<polyline points="850.6,581.8 872.7,594.6" fill="none" stroke="#e9e9e9" stroke-width="0.5"/>
<polyline points="850.6,581.8 828.6,594.6" fill="none" stroke="#e9e9e9" stroke-width="0.5"/>
<polyline points="850.6,581.8 850.6,569.1" fill="none" stroke="#e9e9e9" stroke-width="0.5"/>
<polyline points="828.6,581.9 850.6,594.6 872.7,581.9 850.6,569.1 828.6,581.9 828.6,594.6 850.6,607.3 872.7,594.6 872.7,581.9" fill="none" stroke="#939393" stroke-width="0.65" stroke-linejoin="round"/>
<polyline points="850.6,607.3 850.6,594.6" fill="none" stroke="#939393" stroke-width="0.65"/>
<polygon points="850.6,607.3 872.7,620 894.7,607.3 894.7,594.6 872.7,581.9 850.6,594.6" fill="#fff" fill-opacity="0.95"/>
<polyline points="872.7,594.6 894.7,607.3" fill="none" stroke="#e9e9e9" stroke-width="0.5"/>
<polyline points="872.7,594.6 850.6,607.3" fill="none" stroke="#e9e9e9" stroke-width="0.5"/>
<polyline points="872.7,594.6 872.7,581.9" fill="none" stroke="#e9e9e9" stroke-width="0.5"/>
<polyline points="850.6,594.6 872.7,607.3 894.7,594.6 872.7,581.9 850.6,594.6 850.6,607.3 872.7,620 894.7,607.3 894.7,594.6" fill="none" stroke="#939393" stroke-width="0.65" stroke-linejoin="round"/>
<polyline points="872.7,620 872.7,607.3" fill="none" stroke="#939393" stroke-width="0.65"/>
<polygon points="777.9,560.2 866.1,611.1 872.7,607.3 784.5,556.4" fill="#ff803a"/>
<polygon points="777.9,560.2 784.5,556.4 784.5,564" fill="#ff6a14"/>
<polygon points="866.1,623.8 872.7,620 872.7,607.3 866.1,611.1" fill="#ff6a14"/>
<polyline points="806.5,569.1 806.5,577.4" fill="none" stroke="#e8752f" stroke-width="0.5"/>
<polyline points="828.6,581.9 828.6,590.1" fill="none" stroke="#e8752f" stroke-width="0.5"/>
<polyline points="850.6,594.6 850.6,602.8" fill="none" stroke="#e8752f" stroke-width="0.5"/>
<polygon points="755.8,585.6 777.9,598.4 799.9,585.6 799.9,572.9 777.9,560.2 755.8,572.9" fill="#fff" fill-opacity="0.95"/>
<polyline points="777.9,572.9 799.9,585.6" fill="none" stroke="#e9e9e9" stroke-width="0.5"/>
<polyline points="777.9,572.9 755.8,585.6" fill="none" stroke="#e9e9e9" stroke-width="0.5"/>
<polyline points="777.9,572.9 777.9,560.2" fill="none" stroke="#e9e9e9" stroke-width="0.5"/>
<polyline points="755.8,572.9 777.9,585.7 799.9,572.9 777.9,560.2 755.8,572.9 755.8,585.6 777.9,598.4 799.9,585.6 799.9,572.9" fill="none" stroke="#939393" stroke-width="0.65" stroke-linejoin="round"/>
<polyline points="777.9,598.4 777.9,585.7" fill="none" stroke="#939393" stroke-width="0.65"/>
<polygon points="777.9,598.4 795.5,608.6 817.5,595.8 817.5,583.1 799.9,572.9 777.9,585.7" fill="#fff" fill-opacity="0.95"/>
<polyline points="799.9,585.6 817.5,595.8" fill="none" stroke="#e9e9e9" stroke-width="0.5"/>
<polyline points="799.9,585.6 777.9,598.4" fill="none" stroke="#e9e9e9" stroke-width="0.5"/>
<polyline points="799.9,585.6 799.9,572.9" fill="none" stroke="#e9e9e9" stroke-width="0.5"/>
<polyline points="777.9,585.7 795.5,595.9 817.5,583.1 799.9,572.9 777.9,585.7 777.9,598.4 795.5,608.6 817.5,595.8 817.5,583.1" fill="none" stroke="#939393" stroke-width="0.65" stroke-linejoin="round"/>
<polyline points="795.5,608.6 795.5,595.9" fill="none" stroke="#939393" stroke-width="0.65"/>
<polygon points="804.3,613.6 822,623.8 844,611.1 844,598.4 826.4,588.2 804.3,600.9" fill="#fff" fill-opacity="0.95"/>
<polyline points="826.4,600.9 844,611.1" fill="none" stroke="#e9e9e9" stroke-width="0.5"/>
<polyline points="826.4,600.9 804.3,613.6" fill="none" stroke="#e9e9e9" stroke-width="0.5"/>
<polyline points="826.4,600.9 826.4,588.2" fill="none" stroke="#e9e9e9" stroke-width="0.5"/>
<polyline points="804.3,600.9 822,611.1 844,598.4 826.4,588.2 804.3,600.9 804.3,613.6 822,623.8 844,611.1 844,598.4" fill="none" stroke="#939393" stroke-width="0.65" stroke-linejoin="round"/>
<polyline points="822,623.8 822,611.1" fill="none" stroke="#939393" stroke-width="0.65"/>
<polygon points="822,623.8 844,636.6 866.1,623.8 866.1,611.1 844,598.4 822,611.1" fill="#fff" fill-opacity="0.95"/>
<polyline points="844,611.1 866.1,623.8" fill="none" stroke="#e9e9e9" stroke-width="0.5"/>
<polyline points="844,611.1 822,623.8" fill="none" stroke="#e9e9e9" stroke-width="0.5"/>
<polyline points="844,611.1 844,598.4" fill="none" stroke="#e9e9e9" stroke-width="0.5"/>
<polyline points="822,611.1 844,623.9 866.1,611.1 844,598.4 822,611.1 822,623.8 844,636.6 866.1,623.8 866.1,611.1" fill="none" stroke="#939393" stroke-width="0.65" stroke-linejoin="round"/>
<polyline points="844,636.6 844,623.9" fill="none" stroke="#939393" stroke-width="0.65"/>
<polygon points="795.5,595.9 804.3,600.9 826.4,588.2 817.5,583.1" fill="#ff7a30"/>
<polygon points="795.5,595.9 804.3,600.9 812,596.5 804.3,595.9" fill="#ff6a14"/>
<polygon points="817.5,583.1 826.4,588.2 817.5,593.3" fill="#ff6510"/>
<polygon points="795.5,608.6 804.3,613.6 804.3,600.9 795.5,595.9" fill="#ff6a14"/>
<polygon points="1020,585.6 1042,598.4 1065,594 1087,581.3 1065,568.6 1042.1,572.9" fill="#e9e9e9"/>
<polygon points="1042,598.4 1059.7,608.6 1082.6,604.2 1104.7,591.5 1087,581.3 1064.1,585.6" fill="#e9e9e9"/>
<polygon points="1068.5,613.6 1086.2,623.8 1109.1,619.5 1131.1,606.8 1113.5,596.6 1090.6,600.9" fill="#e9e9e9"/>
<polygon points="1086.2,623.8 1108.2,636.6 1131.1,632.2 1153.2,619.5 1131.1,606.8 1108.2,611.1" fill="#e9e9e9"/>
<polygon points="1048.7,569.1 1070.7,581.8 1093.6,577.5 1115.7,564.8 1093.6,552 1070.7,556.4" fill="#e9e9e9"/>
<polygon points="1070.7,581.8 1092.8,594.6 1115.7,590.2 1137.7,577.5 1115.7,564.8 1092.8,569.1" fill="#e9e9e9"/>
<polygon points="1092.8,594.6 1114.8,607.3 1137.7,603 1159.8,590.2 1137.7,577.5 1114.8,581.8" fill="#e9e9e9"/>
<polygon points="1114.8,607.3 1136.9,620 1159.8,615.7 1181.8,603 1159.8,590.2 1136.9,594.6" fill="#e9e9e9"/>
<polygon points="1042.1,572.9 1130.3,623.8 1153.2,619.5 1159.8,615.7 1071.6,564.8 1048.7,569.1" fill="#e9e9e9"/>
<polygon points="975.9,611.1 1064.1,662 1087,657.7 1131.1,632.2 1042.9,581.3 1020,585.6" fill="#e9e9e9"/>
<polygon points="975.9,611.1 1064.1,662 1108.2,636.6 1020,585.6" fill="#92f90e"/>
<polyline points="979.4,583.6 1100.7,653.6" fill="none" stroke="#ff6a2a" stroke-width="0.8"/>
<polyline points="989.8,583.6 979.4,583.6 979.4,589.6" fill="none" stroke="#ff6a2a" stroke-width="0.8"/>
<polyline points="1100.7,647.6 1100.7,653.6 1090.3,653.6" fill="none" stroke="#ff6a2a" stroke-width="0.8"/>
<polyline points="1045.6,621.8 1056.4,615.6" fill="none" stroke="#ff6a2a" stroke-width="0.8"/>
<polyline points="1056.4,621.6 1056.4,615.6 1046,615.6" fill="none" stroke="#ff6a2a" stroke-width="0.8"/>
<polyline points="1025.7,559.7 1143.5,627.6" fill="none" stroke="#ff6a2a" stroke-width="0.8"/>
<polyline points="1036.1,559.7 1025.7,559.7 1025.7,565.7" fill="none" stroke="#ff6a2a" stroke-width="0.8"/>
<polyline points="1143.5,621.6 1143.5,627.6 1133.1,627.6" fill="none" stroke="#ff6a2a" stroke-width="0.8"/>
<polyline points="1064.1,611.1 1089.5,596.5" fill="none" stroke="#ff6a2a" stroke-width="0.6"/>
<polygon points="1048.7,569.1 1070.7,581.8 1092.8,569.1 1092.8,556.4 1070.7,543.7 1048.7,556.4" fill="#fff" fill-opacity="0.95"/>
<polyline points="1070.7,556.4 1092.8,569.1" fill="none" stroke="#e9e9e9" stroke-width="0.5"/>
<polyline points="1070.7,556.4 1048.7,569.1" fill="none" stroke="#e9e9e9" stroke-width="0.5"/>
<polyline points="1070.7,556.4 1070.7,543.7" fill="none" stroke="#e9e9e9" stroke-width="0.5"/>
<polyline points="1048.7,556.4 1070.7,569.1 1092.8,556.4 1070.7,543.7 1048.7,556.4 1048.7,569.1 1070.7,581.8 1092.8,569.1 1092.8,556.4" fill="none" stroke="#939393" stroke-width="0.65" stroke-linejoin="round"/>
<polyline points="1070.7,581.8 1070.7,569.1" fill="none" stroke="#939393" stroke-width="0.65"/>
<polygon points="1070.7,581.8 1092.8,594.6 1114.8,581.8 1114.8,569.1 1092.8,556.4 1070.7,569.1" fill="#fff" fill-opacity="0.95"/>
<polyline points="1092.8,569.1 1114.8,581.8" fill="none" stroke="#e9e9e9" stroke-width="0.5"/>
<polyline points="1092.8,569.1 1070.7,581.8" fill="none" stroke="#e9e9e9" stroke-width="0.5"/>
<polyline points="1092.8,569.1 1092.8,556.4" fill="none" stroke="#e9e9e9" stroke-width="0.5"/>
<polyline points="1070.7,569.1 1092.8,581.9 1114.8,569.1 1092.8,556.4 1070.7,569.1 1070.7,581.8 1092.8,594.6 1114.8,581.8 1114.8,569.1" fill="none" stroke="#939393" stroke-width="0.65" stroke-linejoin="round"/>
<polyline points="1092.8,594.6 1092.8,581.9" fill="none" stroke="#939393" stroke-width="0.65"/>
<polygon points="1092.8,594.6 1114.8,607.3 1136.9,594.6 1136.9,581.9 1114.8,569.1 1092.8,581.9" fill="#fff" fill-opacity="0.95"/>
<polyline points="1114.8,581.8 1136.9,594.6" fill="none" stroke="#e9e9e9" stroke-width="0.5"/>
<polyline points="1114.8,581.8 1092.8,594.6" fill="none" stroke="#e9e9e9" stroke-width="0.5"/>
<polyline points="1114.8,581.8 1114.8,569.1" fill="none" stroke="#e9e9e9" stroke-width="0.5"/>
<polyline points="1092.8,581.9 1114.8,594.6 1136.9,581.9 1114.8,569.1 1092.8,581.9 1092.8,594.6 1114.8,607.3 1136.9,594.6 1136.9,581.9" fill="none" stroke="#939393" stroke-width="0.65" stroke-linejoin="round"/>
<polyline points="1114.8,607.3 1114.8,594.6" fill="none" stroke="#939393" stroke-width="0.65"/>
<polygon points="1114.8,607.3 1136.9,620 1158.9,607.3 1158.9,594.6 1136.9,581.9 1114.8,594.6" fill="#fff" fill-opacity="0.95"/>
<polyline points="1136.9,594.6 1158.9,607.3" fill="none" stroke="#e9e9e9" stroke-width="0.5"/>
<polyline points="1136.9,594.6 1114.8,607.3" fill="none" stroke="#e9e9e9" stroke-width="0.5"/>
<polyline points="1136.9,594.6 1136.9,581.9" fill="none" stroke="#e9e9e9" stroke-width="0.5"/>
<polyline points="1114.8,594.6 1136.9,607.3 1158.9,594.6 1136.9,581.9 1114.8,594.6 1114.8,607.3 1136.9,620 1158.9,607.3 1158.9,594.6" fill="none" stroke="#939393" stroke-width="0.65" stroke-linejoin="round"/>
<polyline points="1136.9,620 1136.9,607.3" fill="none" stroke="#939393" stroke-width="0.65"/>
<polygon points="1042.1,560.2 1130.3,611.1 1136.9,607.3 1048.7,556.4" fill="#ff803a"/>
<polygon points="1042.1,560.2 1048.7,556.4 1048.7,564" fill="#ff6a14"/>
<polygon points="1130.3,623.8 1136.9,620 1136.9,607.3 1130.3,611.1" fill="#ff6a14"/>
<polyline points="1070.7,569.1 1070.7,577.4" fill="none" stroke="#e8752f" stroke-width="0.5"/>
<polyline points="1092.8,581.9 1092.8,590.1" fill="none" stroke="#e8752f" stroke-width="0.5"/>
<polyline points="1114.8,594.6 1114.8,602.8" fill="none" stroke="#e8752f" stroke-width="0.5"/>
<polygon points="1020,585.6 1042,598.4 1064.1,585.6 1064.1,572.9 1042.1,560.2 1020,572.9" fill="#fff" fill-opacity="0.95"/>
<polyline points="1042.1,572.9 1064.1,585.6" fill="none" stroke="#e9e9e9" stroke-width="0.5"/>
<polyline points="1042.1,572.9 1020,585.6" fill="none" stroke="#e9e9e9" stroke-width="0.5"/>
<polyline points="1042.1,572.9 1042.1,560.2" fill="none" stroke="#e9e9e9" stroke-width="0.5"/>
<polyline points="1020,572.9 1042,585.7 1064.1,572.9 1042.1,560.2 1020,572.9 1020,585.6 1042,598.4 1064.1,585.6 1064.1,572.9" fill="none" stroke="#939393" stroke-width="0.65" stroke-linejoin="round"/>
<polyline points="1042,598.4 1042,585.7" fill="none" stroke="#939393" stroke-width="0.65"/>
<polygon points="1042,598.4 1059.7,608.6 1081.7,595.8 1081.7,583.1 1064.1,572.9 1042,585.7" fill="#fff" fill-opacity="0.95"/>
<polyline points="1064.1,585.6 1081.7,595.8" fill="none" stroke="#e9e9e9" stroke-width="0.5"/>
<polyline points="1064.1,585.6 1042,598.4" fill="none" stroke="#e9e9e9" stroke-width="0.5"/>
<polyline points="1064.1,585.6 1064.1,572.9" fill="none" stroke="#e9e9e9" stroke-width="0.5"/>
<polyline points="1042,585.7 1059.7,595.9 1081.7,583.1 1064.1,572.9 1042,585.7 1042,598.4 1059.7,608.6 1081.7,595.8 1081.7,583.1" fill="none" stroke="#939393" stroke-width="0.65" stroke-linejoin="round"/>
<polyline points="1059.7,608.6 1059.7,595.9" fill="none" stroke="#939393" stroke-width="0.65"/>
<polygon points="1068.5,613.6 1086.2,623.8 1108.2,611.1 1108.2,598.4 1090.6,588.2 1068.5,600.9" fill="#fff" fill-opacity="0.95"/>
<polyline points="1090.6,600.9 1108.2,611.1" fill="none" stroke="#e9e9e9" stroke-width="0.5"/>
<polyline points="1090.6,600.9 1068.5,613.6" fill="none" stroke="#e9e9e9" stroke-width="0.5"/>
<polyline points="1090.6,600.9 1090.6,588.2" fill="none" stroke="#e9e9e9" stroke-width="0.5"/>
<polyline points="1068.5,600.9 1086.2,611.1 1108.2,598.4 1090.6,588.2 1068.5,600.9 1068.5,613.6 1086.2,623.8 1108.2,611.1 1108.2,598.4" fill="none" stroke="#939393" stroke-width="0.65" stroke-linejoin="round"/>
<polyline points="1086.2,623.8 1086.2,611.1" fill="none" stroke="#939393" stroke-width="0.65"/>
<polygon points="1086.2,623.8 1108.2,636.6 1130.3,623.8 1130.3,611.1 1108.2,598.4 1086.2,611.1" fill="#fff" fill-opacity="0.95"/>
<polyline points="1108.2,611.1 1130.3,623.8" fill="none" stroke="#e9e9e9" stroke-width="0.5"/>
<polyline points="1108.2,611.1 1086.2,623.8" fill="none" stroke="#e9e9e9" stroke-width="0.5"/>
<polyline points="1108.2,611.1 1108.2,598.4" fill="none" stroke="#e9e9e9" stroke-width="0.5"/>
<polyline points="1086.2,611.1 1108.2,623.9 1130.3,611.1 1108.2,598.4 1086.2,611.1 1086.2,623.8 1108.2,636.6 1130.3,623.8 1130.3,611.1" fill="none" stroke="#939393" stroke-width="0.65" stroke-linejoin="round"/>
<polyline points="1108.2,636.6 1108.2,623.9" fill="none" stroke="#939393" stroke-width="0.65"/>
<polygon points="1059.7,595.9 1068.5,600.9 1090.6,588.2 1081.7,583.1" fill="#ff7a30"/>
<polygon points="1059.7,595.9 1068.5,600.9 1076.2,596.5 1068.5,595.9" fill="#ff6a14"/>
<polygon points="1081.7,583.1 1090.6,588.2 1081.7,593.3" fill="#ff6510"/>
<polygon points="1059.7,608.6 1068.5,613.6 1068.5,600.9 1059.7,595.9" fill="#ff6a14"/>
<polygon points="975.9,611.1 1064.1,662 1064.1,649.3 975.9,598.4" fill="#8ff50a" fill-opacity="0.84"/>
<polygon points="1064.1,662 1108.2,636.6 1108.2,623.9 1064.1,649.3" fill="#6fdf0a" fill-opacity="0.88"/>
<polygon points="975.9,598.4 1064.1,649.3 1108.2,623.9 1020,572.9" fill="#93f90d" fill-opacity="0.8"/>
<polyline points="975.9,598.4 1064.1,649.3" fill="none" stroke="#7fe60a" stroke-width="0.5"/>
<polyline points="1064.1,649.3 1108.2,623.9" fill="none" stroke="#7fe60a" stroke-width="0.5"/>
<polyline points="1064.1,662 1064.1,649.3" fill="none" stroke="#7fe60a" stroke-width="0.5"/>
<polygon points="1059.7,608.6 1068.5,613.6 1068.5,600.9 1059.7,595.9" fill="#ff6a14"/>
<polyline points="979.4,583.6 1100.7,653.6" fill="none" stroke="#ff6a2a" stroke-width="0.8" stroke-opacity="0.13"/>
<polyline points="989.8,583.6 979.4,583.6 979.4,589.6" fill="none" stroke="#ff6a2a" stroke-width="0.8" stroke-opacity="0.13"/>
<polyline points="1100.7,647.6 1100.7,653.6 1090.3,653.6" fill="none" stroke="#ff6a2a" stroke-width="0.8" stroke-opacity="0.13"/>
<polyline points="1045.6,621.8 1056.4,615.6" fill="none" stroke="#ff6a2a" stroke-width="0.8" stroke-opacity="0.13"/>
<polyline points="1056.4,621.6 1056.4,615.6 1046,615.6" fill="none" stroke="#ff6a2a" stroke-width="0.8" stroke-opacity="0.13"/>
</g>
<g id="topology" transform="translate(0,0.4)">
<path d="M422.1 39.3 V139.7" stroke="#5d5e60" stroke-width="1.85" stroke-dasharray="5.5 2.5" fill="none"/>
<path d="M413.8 48 L422.1 39 L430.4 48 M413.8 131 L422.1 140 L430.4 131" stroke="#5d5e60" stroke-width="2.15" fill="none" stroke-linecap="butt" stroke-linejoin="miter"/>
<line x1="444.3" y1="53.2" x2="452.9" y2="78" stroke="#a3cf62" stroke-width="3.9"/>
<line x1="452.9" y1="78" x2="459.7" y2="101.2" stroke="#a3cf62" stroke-width="3.9"/>
<line x1="459.7" y1="101.2" x2="459.1" y2="125.5" stroke="#a3cf62" stroke-width="3.9"/>
<circle cx="444.3" cy="53.2" r="5.9" fill="#fff" stroke="#a3cf62" stroke-width="4.3"/>
<circle cx="452.9" cy="78" r="5.9" fill="#fff" stroke="#a3cf62" stroke-width="4.3"/>
<circle cx="459.7" cy="101.2" r="5.9" fill="#fff" stroke="#a3cf62" stroke-width="4.3"/>
<circle cx="459.1" cy="125.5" r="5.9" fill="#fff" stroke="#a3cf62" stroke-width="4.3"/>
<path d="M422.1 53.2 L463.1 53.2" stroke="#5d5e60" stroke-width="1.85" stroke-dasharray="5.5 2.5" fill="none"/>
<path d="M422.1 78 L471.6 78" stroke="#5d5e60" stroke-width="1.85" stroke-dasharray="5.5 2.5" fill="none"/>
<path d="M422.1 101.2 L478.5 101.2" stroke="#5d5e60" stroke-width="1.85" stroke-dasharray="5.5 2.5" fill="none"/>
<path d="M422.1 125 L478.5 125" stroke="#5d5e60" stroke-width="1.85" stroke-dasharray="5.5 2.5" fill="none"/>
<line x1="468.6" y1="51" x2="477.1" y2="75.4" stroke="#ef5533" stroke-width="3.9"/>
<line x1="477.1" y1="75.4" x2="484" y2="100.5" stroke="#ef5533" stroke-width="3.9"/>
<line x1="484" y1="100.5" x2="484" y2="125" stroke="#ef5533" stroke-width="3.9"/>
<circle cx="468.6" cy="51" r="6.15" fill="#fff" stroke="#ef5533" stroke-width="4.3"/>
<circle cx="477.1" cy="75.4" r="6.15" fill="#fff" stroke="#ef5533" stroke-width="4.3"/>
<circle cx="484" cy="100.5" r="6.15" fill="#fff" stroke="#ef5533" stroke-width="4.3"/>
<circle cx="484" cy="125" r="6.15" fill="#fff" stroke="#ef5533" stroke-width="4.3"/>
<path d="M422.1 206.8 V307.3" stroke="#5d5e60" stroke-width="1.85" stroke-dasharray="5.5 2.5" fill="none"/>
<path d="M413.8 215.5 L422.1 206.5 L430.4 215.5 M413.8 298.6 L422.1 307.6 L430.4 298.6" stroke="#5d5e60" stroke-width="2.15" fill="none" stroke-linecap="butt" stroke-linejoin="miter"/>
<path d="M422.1 243.4 L486.6 244 L483.7 268.6 L422.1 268.6" stroke="#5d5e60" stroke-width="1.85" stroke-dasharray="5.5 2.5" fill="none"/>
<line x1="449.2" y1="233.4" x2="472.4" y2="232.9" stroke="#ef5533" stroke-width="3.2"/>
<line x1="472.4" y1="232.9" x2="497.4" y2="231.8" stroke="#ef5533" stroke-width="3.2"/>
<line x1="497.4" y1="231.8" x2="497.1" y2="255.2" stroke="#ef5533" stroke-width="3.2"/>
<line x1="497.1" y1="255.2" x2="492.8" y2="278.5" stroke="#ef5533" stroke-width="3.2"/>
<line x1="492.8" y1="278.5" x2="468.4" y2="280.8" stroke="#ef5533" stroke-width="3.2"/>
<line x1="468.4" y1="280.8" x2="444.6" y2="282" stroke="#ef5533" stroke-width="3.2"/>
<circle cx="449.2" cy="233.4" r="6.0" fill="#fff" stroke="#ef5533" stroke-width="4.05"/>
<circle cx="472.4" cy="232.9" r="6.0" fill="#fff" stroke="#ef5533" stroke-width="4.05"/>
<circle cx="497.4" cy="231.8" r="6.0" fill="#fff" stroke="#ef5533" stroke-width="4.05"/>
<circle cx="497.1" cy="255.2" r="6.0" fill="#fff" stroke="#ef5533" stroke-width="4.05"/>
<circle cx="492.8" cy="278.5" r="6.0" fill="#fff" stroke="#ef5533" stroke-width="4.05"/>
<circle cx="468.4" cy="280.8" r="6.0" fill="#fff" stroke="#ef5533" stroke-width="4.05"/>
<circle cx="444.6" cy="282" r="6.0" fill="#fff" stroke="#ef5533" stroke-width="4.05"/>
<line x1="448" y1="257.8" x2="472.2" y2="257.2" stroke="#a3cf62" stroke-width="3.2"/>
<circle cx="448" cy="257.8" r="5.4" fill="#fff" stroke="#a3cf62" stroke-width="3.85"/>
<circle cx="472.2" cy="257.2" r="5.4" fill="#fff" stroke="#a3cf62" stroke-width="3.85"/>
<path d="M422.1 389.1 V488.4" stroke="#5d5e60" stroke-width="1.85" stroke-dasharray="5.5 2.5" fill="none"/>
<path d="M413.8 397.8 L422.1 388.8 L430.4 397.8 M413.8 479.7 L422.1 488.7 L430.4 479.7" stroke="#5d5e60" stroke-width="2.15" fill="none" stroke-linecap="butt" stroke-linejoin="miter"/>
<line x1="443.2" y1="397.8" x2="467" y2="402.2" stroke="#ef5533" stroke-width="3.5"/>
<line x1="467" y1="402.2" x2="490" y2="402.8" stroke="#ef5533" stroke-width="3.5"/>
<line x1="490" y1="402.8" x2="514.3" y2="403.3" stroke="#ef5533" stroke-width="3.5"/>
<line x1="514.3" y1="403.3" x2="516.6" y2="427.3" stroke="#ef5533" stroke-width="3.5"/>
<line x1="516.6" y1="427.3" x2="524.2" y2="448.6" stroke="#ef5533" stroke-width="3.5"/>
<line x1="524.2" y1="448.6" x2="517.3" y2="471.7" stroke="#ef5533" stroke-width="3.5"/>
<line x1="517.3" y1="471.7" x2="493.4" y2="473.4" stroke="#ef5533" stroke-width="3.5"/>
<line x1="493.4" y1="473.4" x2="469.7" y2="472.9" stroke="#ef5533" stroke-width="3.5"/>
<line x1="469.7" y1="472.9" x2="445.8" y2="470.3" stroke="#ef5533" stroke-width="3.5"/>
<line x1="445.8" y1="470.3" x2="451.3" y2="446.1" stroke="#ef5533" stroke-width="3.5"/>
<line x1="451.3" y1="446.1" x2="444.6" y2="422" stroke="#ef5533" stroke-width="3.5"/>
<line x1="444.6" y1="422" x2="443.2" y2="397.8" stroke="#ef5533" stroke-width="3.5"/>
<circle cx="443.2" cy="397.8" r="5.85" fill="#fff" stroke="#ef5533" stroke-width="4.05"/>
<circle cx="467" cy="402.2" r="5.85" fill="#fff" stroke="#ef5533" stroke-width="4.05"/>
<circle cx="490" cy="402.8" r="5.85" fill="#fff" stroke="#ef5533" stroke-width="4.05"/>
<circle cx="514.3" cy="403.3" r="5.85" fill="#fff" stroke="#ef5533" stroke-width="4.05"/>
<circle cx="516.6" cy="427.3" r="5.85" fill="#fff" stroke="#ef5533" stroke-width="4.05"/>
<circle cx="524.2" cy="448.6" r="5.85" fill="#fff" stroke="#ef5533" stroke-width="4.05"/>
<circle cx="517.3" cy="471.7" r="5.85" fill="#fff" stroke="#ef5533" stroke-width="4.05"/>
<circle cx="493.4" cy="473.4" r="5.85" fill="#fff" stroke="#ef5533" stroke-width="4.05"/>
<circle cx="469.7" cy="472.9" r="5.85" fill="#fff" stroke="#ef5533" stroke-width="4.05"/>
<circle cx="445.8" cy="470.3" r="5.85" fill="#fff" stroke="#ef5533" stroke-width="4.05"/>
<circle cx="451.3" cy="446.1" r="5.85" fill="#fff" stroke="#ef5533" stroke-width="4.05"/>
<circle cx="444.6" cy="422" r="5.85" fill="#fff" stroke="#ef5533" stroke-width="4.05"/>
<path d="M422.1 435.6 L457.4 436" stroke="#5d5e60" stroke-width="1.85" stroke-dasharray="5.5 2.5" fill="none"/>
<path d="M456.3 414 L504.2 415.2 L510.2 448.7 L505.7 462.6 L466 459.6 L457.4 437 Z" stroke="#5d5e60" stroke-width="1.85" stroke-dasharray="5.5 2.5" fill="none"/>
<line x1="468.6" y1="426.3" x2="495.9" y2="426" stroke="#a3cf62" stroke-width="3.5"/>
<line x1="495.9" y1="426" x2="497.6" y2="450.2" stroke="#a3cf62" stroke-width="3.5"/>
<line x1="497.6" y1="450.2" x2="475.8" y2="449.3" stroke="#a3cf62" stroke-width="3.5"/>
<line x1="475.8" y1="449.3" x2="468.6" y2="426.3" stroke="#a3cf62" stroke-width="3.5"/>
<circle cx="468.6" cy="426.3" r="5.75" fill="#fff" stroke="#a3cf62" stroke-width="3.85"/>
<circle cx="495.9" cy="426" r="5.75" fill="#fff" stroke="#a3cf62" stroke-width="3.85"/>
<circle cx="497.6" cy="450.2" r="5.75" fill="#fff" stroke="#a3cf62" stroke-width="3.85"/>
<circle cx="475.8" cy="449.3" r="5.75" fill="#fff" stroke="#a3cf62" stroke-width="3.85"/>
<path d="M422.1 546.8 V646.4" stroke="#5d5e60" stroke-width="1.85" stroke-dasharray="5.5 2.5" fill="none"/>
<path d="M413.8 555.5 L422.1 546.5 L430.4 555.5 M413.8 637.7 L422.1 646.7 L430.4 637.7" stroke="#5d5e60" stroke-width="2.15" fill="none" stroke-linecap="butt" stroke-linejoin="miter"/>
<line x1="451.5" y1="569.3" x2="450.6" y2="593.3" stroke="#a3cf62" stroke-width="3.9"/>
<line x1="450.6" y1="593.3" x2="445.3" y2="615" stroke="#a3cf62" stroke-width="3.9"/>
<line x1="445.3" y1="615" x2="461.8" y2="631.4" stroke="#a3cf62" stroke-width="3.9"/>
<circle cx="451.5" cy="569.3" r="5.9" fill="#fff" stroke="#a3cf62" stroke-width="4.3"/>
<circle cx="450.6" cy="593.3" r="5.9" fill="#fff" stroke="#a3cf62" stroke-width="4.3"/>
<circle cx="445.3" cy="615" r="5.9" fill="#fff" stroke="#a3cf62" stroke-width="4.3"/>
<circle cx="461.8" cy="631.4" r="5.9" fill="#fff" stroke="#a3cf62" stroke-width="4.3"/>
<line x1="487" y1="560.6" x2="510.8" y2="565.2" stroke="#ef5533" stroke-width="3.9"/>
<line x1="487" y1="560.6" x2="472.7" y2="580.5" stroke="#ef5533" stroke-width="3.9"/>
<line x1="510.8" y1="565.2" x2="496.1" y2="583.5" stroke="#ef5533" stroke-width="3.9"/>
<line x1="472.7" y1="580.5" x2="496.1" y2="583.5" stroke="#ef5533" stroke-width="3.9"/>
<line x1="472.7" y1="580.5" x2="469.2" y2="604.6" stroke="#ef5533" stroke-width="3.9"/>
<line x1="496.1" y1="583.5" x2="493.7" y2="605.9" stroke="#ef5533" stroke-width="3.9"/>
<line x1="469.2" y1="604.6" x2="493.7" y2="605.9" stroke="#ef5533" stroke-width="3.9"/>
<line x1="469.2" y1="604.6" x2="485.5" y2="628.7" stroke="#ef5533" stroke-width="3.9"/>
<line x1="493.7" y1="605.9" x2="509" y2="627.9" stroke="#ef5533" stroke-width="3.9"/>
<line x1="485.5" y1="628.7" x2="509" y2="627.9" stroke="#ef5533" stroke-width="3.9"/>
<circle cx="487" cy="560.6" r="6.2" fill="#fff" stroke="#ef5533" stroke-width="4.3"/>
<circle cx="510.8" cy="565.2" r="6.2" fill="#fff" stroke="#ef5533" stroke-width="4.3"/>
<circle cx="472.7" cy="580.5" r="6.2" fill="#fff" stroke="#ef5533" stroke-width="4.3"/>
<circle cx="496.1" cy="583.5" r="6.2" fill="#fff" stroke="#ef5533" stroke-width="4.3"/>
<circle cx="469.2" cy="604.6" r="6.2" fill="#fff" stroke="#ef5533" stroke-width="4.3"/>
<circle cx="493.7" cy="605.9" r="6.2" fill="#fff" stroke="#ef5533" stroke-width="4.3"/>
<circle cx="485.5" cy="628.7" r="6.2" fill="#fff" stroke="#ef5533" stroke-width="4.3"/>
<circle cx="509" cy="627.9" r="6.2" fill="#fff" stroke="#ef5533" stroke-width="4.3"/>
<path d="M422.1 593.3 L481.6 593.3 L481.6 599" stroke="#5d5e60" stroke-width="1.85" stroke-dasharray="5.5 2.5" fill="none"/>
<path d="M499.3 563.6 L484.3 579.8 Q482 583 481.8 590 M481.7 600 Q482.3 603.5 484 606 L499 627.2" stroke="#5d5e60" stroke-width="1.85" stroke-dasharray="5.5 2.5" fill="none"/>
</g>
<g id="axes">
<path d="M237.4 142.5 V256.8 M164.5 200.5 H307.7" stroke="#6d6e71" stroke-width="2" fill="none"/>
<path d="M230.6 148.7 L237.4 141.9 L244.2 148.7 M230.6 250.6 L237.4 257.4 L244.2 250.6 M170.7 193.7 L163.9 200.5 L170.7 207.3 M301.5 193.7 L308.3 200.5 L301.5 207.3" stroke="#6d6e71" stroke-width="2" fill="none"/>
<circle cx="187.1" cy="160.2" r="4.5" fill="#ee1d23"/>
<circle cx="247.2" cy="160.9" r="4.5" fill="#ee1d23"/>
<circle cx="194.7" cy="183.6" r="4.5" fill="#ee1d23"/>
<circle cx="214" cy="188.8" r="4.5" fill="#ee1d23"/>
<circle cx="220.1" cy="219.1" r="4.5" fill="#ee1d23"/>
<circle cx="264.8" cy="241.8" r="4.5" fill="#ee1d23"/>
<circle cx="283.4" cy="242.3" r="4.5" fill="#ee1d23"/>
</g>
<g id="labels">
<text x="406.5" y="10.9" font-size="11.5" textLength="54.8" lengthAdjust="spacingAndGlyphs">TOPOLOGY</text>
<text x="703.3" y="10.9" font-size="11.5" textLength="200" lengthAdjust="spacingAndGlyphs">DWELLINGS ACCESSED VIA OPEN PLOTS</text>
<text x="952.5" y="10.9" font-size="11.5" textLength="213.8" lengthAdjust="spacingAndGlyphs">DWELLINGS ACCESSED VIA GREENHOUSES</text>
<text x="7.9" y="208" font-size="11.5" textLength="93.4" lengthAdjust="spacingAndGlyphs">Relationships can be</text>
<text x="7.9" y="220.6" font-size="11.5" textLength="94.8" lengthAdjust="spacingAndGlyphs">plotted on a gradient</text>
<text x="7.9" y="233.1" font-size="11.5" textLength="39.5" lengthAdjust="spacingAndGlyphs">between:</text>
<text x="25.6" y="252.8" font-size="11.5" textLength="87.9" lengthAdjust="spacingAndGlyphs">Urban/Agricultural</text>
<text x="25.6" y="271.6" font-size="11.5" textLength="64.5" lengthAdjust="spacingAndGlyphs">Private/Public</text>
<circle cx="17.5" cy="249.3" r="1.2" fill="#808080"/><circle cx="17.5" cy="268.2" r="1.2" fill="#808080"/>
<text x="223.3" y="134.5" font-size="11.5" textLength="28.1" lengthAdjust="spacingAndGlyphs">Urban</text>
<text x="172" y="215.1" font-size="11.5" textLength="32.2" lengthAdjust="spacingAndGlyphs">Private</text>
<text x="272.6" y="215.1" font-size="11.5" textLength="28.1" lengthAdjust="spacingAndGlyphs">Public</text>
<text x="210.6" y="271.3" font-size="11.5" textLength="54.9" lengthAdjust="spacingAndGlyphs">Agricultural</text>
<text x="406" y="157.8" font-size="10.9" textLength="196.6" lengthAdjust="spacingAndGlyphs">Rowhouses Accessed via Private Productive</text>
<text x="406" y="168.5" font-size="10.9" textLength="23.5" lengthAdjust="spacingAndGlyphs">Units</text>
<text x="406" y="334.3" font-size="10.9" textLength="110.4" lengthAdjust="spacingAndGlyphs">Semi-enclosed Forecourt</text>
<text x="406" y="513.8" font-size="10.9" textLength="173.7" lengthAdjust="spacingAndGlyphs">Courtyard Component with Productive</text>
<text x="406" y="523.8" font-size="10.9" textLength="78.3" lengthAdjust="spacingAndGlyphs">Embedded within</text>
<text x="406" y="680.3" font-size="10.9" textLength="198" lengthAdjust="spacingAndGlyphs">Apartment / Block Component Accessed via</text>
<text x="406" y="690.8" font-size="10.9" textLength="48.4" lengthAdjust="spacingAndGlyphs">Productive</text>
</g>
</svg>
</body></html>
